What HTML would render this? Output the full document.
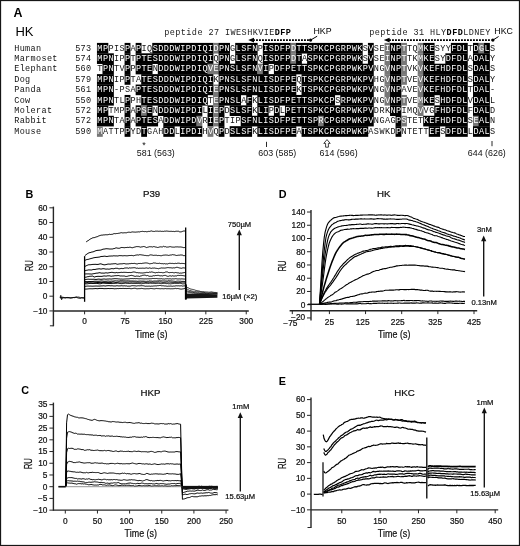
<!DOCTYPE html>
<html lang="en"><head><meta charset="utf-8"><title>HK alignment and SPR sensorgrams</title>
<style>html,body{margin:0;padding:0;background:#fff}body{width:520px;height:546px;overflow:hidden}svg{display:block}text{white-space:pre}</style>
</head><body>
<svg width="520" height="546" viewBox="0 0 520 546">
<rect x="0" y="0" width="520" height="546" fill="#fff"/>
<g id="header">
<text x="13.6" y="17" font-family='"Liberation Sans", Arial, Helvetica, sans-serif' font-size="12.4" font-weight="700" fill="#000">A</text>
<text x="15.4" y="36.2" font-family='"Liberation Sans", Arial, Helvetica, sans-serif' font-size="13" fill="#000">HK</text>
<text y="35.1" font-family='"Liberation Mono", "Courier New", Courier, monospace' font-size="8.5" fill="#222">
<tspan x="164.2 169.73 175.26 180.79 186.32 191.85 197.38 202.91 208.44 213.97 219.5 225.03 230.56 236.09 241.62 247.15 252.68 258.21 263.74 269.27">peptide 27 IWESHKVIE</tspan>
<tspan x="274.8 280.33 285.86" font-weight="700" fill="#000">DFP</tspan>
</text>
<text x="313.5" y="34.1" font-family='"Liberation Sans", Arial, Helvetica, sans-serif' font-size="8.8" fill="#000">HKP</text>
<line x1="253" y1="40.1" x2="309" y2="40.1" stroke="#000" stroke-width="1.6" stroke-dasharray="1.9 1.1"/>
<path d="M248.2 40.1 L254 37.7 L254 42.5 Z" fill="#000"/>
<circle cx="310.6" cy="40.1" r="1.6" fill="#000"/>
<line x1="310.6" y1="40.1" x2="317.2" y2="36.2" stroke="#000" stroke-width="1"/>
<text y="35.1" font-family='"Liberation Mono", "Courier New", Courier, monospace' font-size="8.5" fill="#222">
<tspan x="369.2 374.73 380.26 385.79 391.32 396.85 402.38 407.91 413.44 418.97 424.5 430.03 435.56 441.09">peptide 31 HLY</tspan>
<tspan x="446.62 452.15 457.68" font-weight="700" fill="#000">DFD</tspan>
<tspan x="463.21 468.74 474.27 479.8 485.33">LDNEY</tspan>
</text>
<text x="494.3" y="34.1" font-family='"Liberation Sans", Arial, Helvetica, sans-serif' font-size="8.8" fill="#000">HKC</text>
<line x1="389" y1="40.1" x2="491.5" y2="40.1" stroke="#000" stroke-width="1.6" stroke-dasharray="1.9 1.1"/>
<path d="M383.8 40.1 L389.6 37.7 L389.6 42.5 Z" fill="#000"/>
<circle cx="492.9" cy="40.1" r="1.6" fill="#000"/>
<line x1="492.9" y1="40.1" x2="498.6" y2="36.5" stroke="#000" stroke-width="1"/>
</g>
<g id="alignment" font-family='"Liberation Mono", "Courier New", Courier, monospace' font-size="8.5">
<rect x="96.95" y="42.9" width="11.36" height="10.66" fill="#000"/>
<rect x="124.6" y="42.9" width="5.83" height="10.66" fill="#000"/>
<rect x="135.66" y="42.9" width="5.83" height="10.66" fill="#000"/>
<rect x="152.25" y="42.9" width="61.13" height="10.66" fill="#000"/>
<rect x="213.08" y="42.9" width="5.83" height="10.66" fill="#777"/>
<rect x="218.61" y="42.9" width="11.36" height="10.66" fill="#000"/>
<rect x="235.2" y="42.9" width="22.42" height="10.66" fill="#000"/>
<rect x="262.85" y="42.9" width="27.95" height="10.66" fill="#000"/>
<rect x="290.5" y="42.9" width="5.83" height="10.66" fill="#777"/>
<rect x="296.03" y="42.9" width="66.66" height="10.66" fill="#000"/>
<rect x="367.92" y="42.9" width="5.83" height="10.66" fill="#000"/>
<rect x="384.51" y="42.9" width="5.83" height="10.66" fill="#777"/>
<rect x="390.04" y="42.9" width="11.36" height="10.66" fill="#000"/>
<rect x="401.1" y="42.9" width="5.83" height="10.66" fill="#777"/>
<rect x="417.69" y="42.9" width="5.83" height="10.66" fill="#777"/>
<rect x="423.22" y="42.9" width="11.36" height="10.66" fill="#000"/>
<rect x="450.87" y="42.9" width="16.89" height="10.66" fill="#000"/>
<rect x="472.99" y="42.9" width="5.83" height="10.66" fill="#000"/>
<rect x="478.52" y="42.9" width="5.83" height="10.66" fill="#777"/>
<rect x="484.05" y="42.9" width="5.83" height="10.66" fill="#000"/>
<rect x="96.95" y="53.31" width="16.89" height="10.66" fill="#000"/>
<rect x="124.6" y="53.31" width="5.83" height="10.66" fill="#000"/>
<rect x="135.66" y="53.31" width="77.72" height="10.66" fill="#000"/>
<rect x="218.61" y="53.31" width="11.36" height="10.66" fill="#000"/>
<rect x="235.2" y="53.31" width="22.42" height="10.66" fill="#000"/>
<rect x="262.85" y="53.31" width="27.95" height="10.66" fill="#000"/>
<rect x="290.5" y="53.31" width="5.83" height="10.66" fill="#777"/>
<rect x="296.03" y="53.31" width="5.83" height="10.66" fill="#000"/>
<rect x="307.09" y="53.31" width="55.6" height="10.66" fill="#000"/>
<rect x="367.92" y="53.31" width="5.83" height="10.66" fill="#000"/>
<rect x="384.51" y="53.31" width="5.83" height="10.66" fill="#777"/>
<rect x="390.04" y="53.31" width="11.36" height="10.66" fill="#000"/>
<rect x="401.1" y="53.31" width="5.83" height="10.66" fill="#777"/>
<rect x="417.69" y="53.31" width="5.83" height="10.66" fill="#777"/>
<rect x="423.22" y="53.31" width="11.36" height="10.66" fill="#000"/>
<rect x="445.34" y="53.31" width="22.42" height="10.66" fill="#000"/>
<rect x="472.99" y="53.31" width="16.89" height="10.66" fill="#000"/>
<rect x="102.48" y="63.72" width="11.36" height="10.66" fill="#000"/>
<rect x="124.6" y="63.72" width="5.83" height="10.66" fill="#000"/>
<rect x="135.66" y="63.72" width="16.89" height="10.66" fill="#000"/>
<rect x="157.78" y="63.72" width="50.07" height="10.66" fill="#000"/>
<rect x="207.55" y="63.72" width="11.36" height="10.66" fill="#777"/>
<rect x="218.61" y="63.72" width="39.01" height="10.66" fill="#000"/>
<rect x="257.32" y="63.72" width="5.83" height="10.66" fill="#777"/>
<rect x="262.85" y="63.72" width="5.83" height="10.66" fill="#000"/>
<rect x="273.91" y="63.72" width="99.84" height="10.66" fill="#000"/>
<rect x="384.51" y="63.72" width="5.83" height="10.66" fill="#777"/>
<rect x="390.04" y="63.72" width="11.36" height="10.66" fill="#000"/>
<rect x="401.1" y="63.72" width="5.83" height="10.66" fill="#777"/>
<rect x="417.69" y="63.72" width="5.83" height="10.66" fill="#777"/>
<rect x="423.22" y="63.72" width="44.54" height="10.66" fill="#000"/>
<rect x="472.99" y="63.72" width="16.89" height="10.66" fill="#000"/>
<rect x="96.95" y="74.13" width="16.89" height="10.66" fill="#000"/>
<rect x="124.6" y="74.13" width="5.83" height="10.66" fill="#000"/>
<rect x="141.19" y="74.13" width="72.19" height="10.66" fill="#000"/>
<rect x="218.61" y="74.13" width="77.72" height="10.66" fill="#000"/>
<rect x="301.56" y="74.13" width="72.19" height="10.66" fill="#000"/>
<rect x="384.51" y="74.13" width="5.83" height="10.66" fill="#777"/>
<rect x="390.04" y="74.13" width="11.36" height="10.66" fill="#000"/>
<rect x="401.1" y="74.13" width="5.83" height="10.66" fill="#777"/>
<rect x="417.69" y="74.13" width="5.83" height="10.66" fill="#777"/>
<rect x="423.22" y="74.13" width="44.54" height="10.66" fill="#000"/>
<rect x="472.99" y="74.13" width="16.89" height="10.66" fill="#000"/>
<rect x="96.95" y="84.54" width="16.89" height="10.66" fill="#000"/>
<rect x="135.66" y="84.54" width="77.72" height="10.66" fill="#000"/>
<rect x="213.08" y="84.54" width="5.83" height="10.66" fill="#777"/>
<rect x="218.61" y="84.54" width="77.72" height="10.66" fill="#000"/>
<rect x="301.56" y="84.54" width="72.19" height="10.66" fill="#000"/>
<rect x="384.51" y="84.54" width="5.83" height="10.66" fill="#777"/>
<rect x="390.04" y="84.54" width="11.36" height="10.66" fill="#000"/>
<rect x="417.69" y="84.54" width="5.83" height="10.66" fill="#777"/>
<rect x="423.22" y="84.54" width="44.54" height="10.66" fill="#000"/>
<rect x="472.99" y="84.54" width="16.89" height="10.66" fill="#000"/>
<rect x="96.95" y="94.95" width="16.89" height="10.66" fill="#000"/>
<rect x="124.6" y="94.95" width="5.83" height="10.66" fill="#000"/>
<rect x="141.19" y="94.95" width="66.66" height="10.66" fill="#000"/>
<rect x="213.08" y="94.95" width="5.83" height="10.66" fill="#777"/>
<rect x="218.61" y="94.95" width="22.42" height="10.66" fill="#000"/>
<rect x="246.26" y="94.95" width="5.83" height="10.66" fill="#000"/>
<rect x="257.32" y="94.95" width="77.72" height="10.66" fill="#000"/>
<rect x="340.27" y="94.95" width="33.48" height="10.66" fill="#000"/>
<rect x="384.51" y="94.95" width="5.83" height="10.66" fill="#777"/>
<rect x="390.04" y="94.95" width="11.36" height="10.66" fill="#000"/>
<rect x="401.1" y="94.95" width="5.83" height="10.66" fill="#777"/>
<rect x="417.69" y="94.95" width="5.83" height="10.66" fill="#777"/>
<rect x="423.22" y="94.95" width="11.36" height="10.66" fill="#000"/>
<rect x="439.81" y="94.95" width="27.95" height="10.66" fill="#000"/>
<rect x="472.99" y="94.95" width="16.89" height="10.66" fill="#000"/>
<rect x="96.95" y="105.36" width="11.36" height="10.66" fill="#000"/>
<rect x="124.6" y="105.36" width="5.83" height="10.66" fill="#000"/>
<rect x="135.66" y="105.36" width="5.83" height="10.66" fill="#000"/>
<rect x="141.19" y="105.36" width="5.83" height="10.66" fill="#777"/>
<rect x="146.72" y="105.36" width="5.83" height="10.66" fill="#000"/>
<rect x="157.78" y="105.36" width="44.54" height="10.66" fill="#000"/>
<rect x="207.55" y="105.36" width="5.83" height="10.66" fill="#000"/>
<rect x="213.08" y="105.36" width="5.83" height="10.66" fill="#777"/>
<rect x="218.61" y="105.36" width="5.83" height="10.66" fill="#000"/>
<rect x="229.67" y="105.36" width="22.42" height="10.66" fill="#000"/>
<rect x="257.32" y="105.36" width="11.36" height="10.66" fill="#000"/>
<rect x="273.91" y="105.36" width="5.83" height="10.66" fill="#000"/>
<rect x="284.97" y="105.36" width="88.78" height="10.66" fill="#000"/>
<rect x="390.04" y="105.36" width="11.36" height="10.66" fill="#000"/>
<rect x="417.69" y="105.36" width="5.83" height="10.66" fill="#777"/>
<rect x="434.28" y="105.36" width="33.48" height="10.66" fill="#000"/>
<rect x="472.99" y="105.36" width="16.89" height="10.66" fill="#000"/>
<rect x="96.95" y="115.77" width="16.89" height="10.66" fill="#000"/>
<rect x="124.6" y="115.77" width="5.83" height="10.66" fill="#000"/>
<rect x="135.66" y="115.77" width="22.42" height="10.66" fill="#000"/>
<rect x="163.31" y="115.77" width="33.48" height="10.66" fill="#000"/>
<rect x="196.49" y="115.77" width="5.83" height="10.66" fill="#777"/>
<rect x="207.55" y="115.77" width="5.83" height="10.66" fill="#000"/>
<rect x="213.08" y="115.77" width="5.83" height="10.66" fill="#777"/>
<rect x="218.61" y="115.77" width="5.83" height="10.66" fill="#000"/>
<rect x="240.73" y="115.77" width="77.72" height="10.66" fill="#000"/>
<rect x="318.15" y="115.77" width="5.83" height="10.66" fill="#777"/>
<rect x="323.68" y="115.77" width="50.07" height="10.66" fill="#000"/>
<rect x="395.57" y="115.77" width="5.83" height="10.66" fill="#000"/>
<rect x="401.1" y="115.77" width="5.83" height="10.66" fill="#777"/>
<rect x="423.22" y="115.77" width="44.54" height="10.66" fill="#000"/>
<rect x="472.99" y="115.77" width="5.83" height="10.66" fill="#777"/>
<rect x="478.52" y="115.77" width="11.36" height="10.66" fill="#000"/>
<rect x="96.95" y="126.18" width="5.83" height="10.66" fill="#777"/>
<rect x="124.6" y="126.18" width="5.83" height="10.66" fill="#000"/>
<rect x="141.19" y="126.18" width="5.83" height="10.66" fill="#000"/>
<rect x="163.31" y="126.18" width="11.36" height="10.66" fill="#000"/>
<rect x="179.9" y="126.18" width="22.42" height="10.66" fill="#000"/>
<rect x="207.55" y="126.18" width="5.83" height="10.66" fill="#777"/>
<rect x="218.61" y="126.18" width="5.83" height="10.66" fill="#000"/>
<rect x="229.67" y="126.18" width="22.42" height="10.66" fill="#000"/>
<rect x="257.32" y="126.18" width="39.01" height="10.66" fill="#000"/>
<rect x="301.56" y="126.18" width="66.66" height="10.66" fill="#000"/>
<rect x="395.57" y="126.18" width="5.83" height="10.66" fill="#000"/>
<rect x="428.75" y="126.18" width="11.36" height="10.66" fill="#000"/>
<rect x="445.34" y="126.18" width="22.42" height="10.66" fill="#000"/>
<rect x="472.99" y="126.18" width="16.89" height="10.66" fill="#000"/>
<text y="50.5" fill="#111">
<tspan x="14.2 19.65 25.09 30.54 35.99">Human</tspan>
<tspan x="75.2 80.56 85.93">573</tspan>
<tspan x="97.35 102.88" fill="#fff">MP</tspan>
<tspan x="108.41 113.94 119.47" fill="#111">PIS</tspan>
<tspan x="125" fill="#fff">P</tspan>
<tspan x="130.53" fill="#111">A</tspan>
<tspan x="136.06" fill="#fff">P</tspan>
<tspan x="141.59 147.12" fill="#111">IQ</tspan>
<tspan x="152.65 158.18 163.71 169.24 174.77 180.3 185.83 191.36 196.89 202.42 207.95" fill="#fff">SDDDWIPDIQI</tspan>
<tspan x="213.48" fill="#fff">D</tspan>
<tspan x="219.01 224.54" fill="#fff">PN</tspan>
<tspan x="230.07" fill="#111">G</tspan>
<tspan x="235.6 241.13 246.66 252.19" fill="#fff">LSFN</tspan>
<tspan x="257.72" fill="#111">P</tspan>
<tspan x="263.25 268.78 274.31 279.84 285.37" fill="#fff">ISDFP</tspan>
<tspan x="290.9" fill="#fff">D</tspan>
<tspan x="296.43 301.96 307.49 313.02 318.55 324.08 329.61 335.14 340.67 346.2 351.73 357.26" fill="#fff">TTSPKCPGRPWK</tspan>
<tspan x="362.79" fill="#111">S</tspan>
<tspan x="368.32" fill="#fff">V</tspan>
<tspan x="373.85 379.38" fill="#111">SE</tspan>
<tspan x="384.91" fill="#fff">I</tspan>
<tspan x="390.44 395.97" fill="#fff">NP</tspan>
<tspan x="401.5" fill="#fff">T</tspan>
<tspan x="407.03 412.56" fill="#111">TQ</tspan>
<tspan x="418.09" fill="#fff">M</tspan>
<tspan x="423.62 429.15" fill="#fff">KE</tspan>
<tspan x="434.68 440.21 445.74" fill="#111">SYY</tspan>
<tspan x="451.27 456.8 462.33" fill="#fff">FDL</tspan>
<tspan x="467.86" fill="#111">T</tspan>
<tspan x="473.39" fill="#fff">D</tspan>
<tspan x="478.92" fill="#fff">G</tspan>
<tspan x="484.45" fill="#fff">L</tspan>
<tspan x="489.98" fill="#111">S</tspan>
</text>
<text y="60.91" fill="#111">
<tspan x="14.2 19.65 25.09 30.54 35.99 41.44 46.88 52.33">Marmoset</tspan>
<tspan x="75.2 80.56 85.93">574</tspan>
<tspan x="97.35 102.88 108.41" fill="#fff">MPN</tspan>
<tspan x="113.94 119.47" fill="#111">IP</tspan>
<tspan x="125" fill="#fff">P</tspan>
<tspan x="130.53" fill="#111">T</tspan>
<tspan x="136.06 141.59 147.12 152.65 158.18 163.71 169.24 174.77 180.3 185.83 191.36 196.89 202.42 207.95" fill="#fff">PTESDDDWIPDIQI</tspan>
<tspan x="213.48" fill="#111">Q</tspan>
<tspan x="219.01 224.54" fill="#fff">PN</tspan>
<tspan x="230.07" fill="#111">G</tspan>
<tspan x="235.6 241.13 246.66 252.19" fill="#fff">LSFN</tspan>
<tspan x="257.72" fill="#111">Q</tspan>
<tspan x="263.25 268.78 274.31 279.84 285.37" fill="#fff">ISDFP</tspan>
<tspan x="290.9" fill="#fff">D</tspan>
<tspan x="296.43" fill="#fff">T</tspan>
<tspan x="301.96" fill="#111">A</tspan>
<tspan x="307.49 313.02 318.55 324.08 329.61 335.14 340.67 346.2 351.73 357.26" fill="#fff">SPKCPGRPWK</tspan>
<tspan x="362.79" fill="#111">S</tspan>
<tspan x="368.32" fill="#fff">V</tspan>
<tspan x="373.85 379.38" fill="#111">SE</tspan>
<tspan x="384.91" fill="#fff">I</tspan>
<tspan x="390.44 395.97" fill="#fff">NP</tspan>
<tspan x="401.5" fill="#fff">T</tspan>
<tspan x="407.03 412.56" fill="#111">TK</tspan>
<tspan x="418.09" fill="#fff">M</tspan>
<tspan x="423.62 429.15" fill="#fff">KE</tspan>
<tspan x="434.68 440.21" fill="#111">SY</tspan>
<tspan x="445.74 451.27 456.8 462.33" fill="#fff">DFDL</tspan>
<tspan x="467.86" fill="#111">A</tspan>
<tspan x="473.39 478.92 484.45" fill="#fff">DAL</tspan>
<tspan x="489.98" fill="#111">Y</tspan>
</text>
<text y="71.32" fill="#111">
<tspan x="14.2 19.65 25.09 30.54 35.99 41.44 46.88 52.33">Elephant</tspan>
<tspan x="75.2 80.56 85.93">560</tspan>
<tspan x="97.35" fill="#111">T</tspan>
<tspan x="102.88 108.41" fill="#fff">PN</tspan>
<tspan x="113.94 119.47" fill="#111">TV</tspan>
<tspan x="125" fill="#fff">P</tspan>
<tspan x="130.53" fill="#111">P</tspan>
<tspan x="136.06 141.59 147.12" fill="#fff">PTE</tspan>
<tspan x="152.65" fill="#111">N</tspan>
<tspan x="158.18 163.71 169.24 174.77 180.3 185.83 191.36 196.89 202.42" fill="#fff">DDDWIPDIQ</tspan>
<tspan x="207.95 213.48" fill="#fff">VE</tspan>
<tspan x="219.01 224.54 230.07 235.6 241.13 246.66 252.19" fill="#fff">PNSLSFN</tspan>
<tspan x="257.72" fill="#fff">V</tspan>
<tspan x="263.25" fill="#fff">I</tspan>
<tspan x="268.78" fill="#111">P</tspan>
<tspan x="274.31 279.84 285.37 290.9 296.43 301.96 307.49 313.02 318.55 324.08 329.61 335.14 340.67 346.2 351.73 357.26 362.79 368.32" fill="#fff">DFPETTSPKCPGRPWKPV</tspan>
<tspan x="373.85 379.38" fill="#111">NG</tspan>
<tspan x="384.91" fill="#fff">V</tspan>
<tspan x="390.44 395.97" fill="#fff">NP</tspan>
<tspan x="401.5" fill="#fff">T</tspan>
<tspan x="407.03 412.56" fill="#111">VK</tspan>
<tspan x="418.09" fill="#fff">V</tspan>
<tspan x="423.62 429.15 434.68 440.21 445.74 451.27 456.8 462.33" fill="#fff">KEFHDFDL</tspan>
<tspan x="467.86" fill="#111">S</tspan>
<tspan x="473.39 478.92 484.45" fill="#fff">DAL</tspan>
<tspan x="489.98" fill="#111">S</tspan>
</text>
<text y="81.73" fill="#111">
<tspan x="14.2 19.65 25.09">Dog</tspan>
<tspan x="75.2 80.56 85.93">579</tspan>
<tspan x="97.35 102.88 108.41" fill="#fff">MPN</tspan>
<tspan x="113.94 119.47" fill="#111">IP</tspan>
<tspan x="125" fill="#fff">P</tspan>
<tspan x="130.53 136.06" fill="#111">TA</tspan>
<tspan x="141.59 147.12 152.65 158.18 163.71 169.24 174.77 180.3 185.83 191.36 196.89 202.42 207.95" fill="#fff">TESDDDWIPDIQI</tspan>
<tspan x="213.48" fill="#111">K</tspan>
<tspan x="219.01 224.54 230.07 235.6 241.13 246.66 252.19 257.72 263.25 268.78 274.31 279.84 285.37 290.9" fill="#fff">PNSLSFNLISDFPE</tspan>
<tspan x="296.43" fill="#111">Q</tspan>
<tspan x="301.96 307.49 313.02 318.55 324.08 329.61 335.14 340.67 346.2 351.73 357.26 362.79 368.32" fill="#fff">TSPKCPGRPWKPV</tspan>
<tspan x="373.85 379.38" fill="#111">HG</tspan>
<tspan x="384.91" fill="#fff">V</tspan>
<tspan x="390.44 395.97" fill="#fff">NP</tspan>
<tspan x="401.5" fill="#fff">T</tspan>
<tspan x="407.03 412.56" fill="#111">VE</tspan>
<tspan x="418.09" fill="#fff">V</tspan>
<tspan x="423.62 429.15 434.68 440.21 445.74 451.27 456.8 462.33" fill="#fff">KEFHDFDL</tspan>
<tspan x="467.86" fill="#111">S</tspan>
<tspan x="473.39 478.92 484.45" fill="#fff">DAL</tspan>
<tspan x="489.98" fill="#111">Y</tspan>
</text>
<text y="92.14" fill="#111">
<tspan x="14.2 19.65 25.09 30.54 35.99">Panda</tspan>
<tspan x="75.2 80.56 85.93">561</tspan>
<tspan x="97.35 102.88 108.41" fill="#fff">MPN</tspan>
<tspan x="113.94 119.47 125 130.53" fill="#111">-PSA</tspan>
<tspan x="136.06 141.59 147.12 152.65 158.18 163.71 169.24 174.77 180.3 185.83 191.36 196.89 202.42 207.95" fill="#fff">PTESDDDWIPDIQI</tspan>
<tspan x="213.48" fill="#fff">E</tspan>
<tspan x="219.01 224.54 230.07 235.6 241.13 246.66 252.19 257.72 263.25 268.78 274.31 279.84 285.37 290.9" fill="#fff">PNSLSFNLISDFPE</tspan>
<tspan x="296.43" fill="#111">K</tspan>
<tspan x="301.96 307.49 313.02 318.55 324.08 329.61 335.14 340.67 346.2 351.73 357.26 362.79 368.32" fill="#fff">TSPKCPGRPWKPV</tspan>
<tspan x="373.85 379.38" fill="#111">NG</tspan>
<tspan x="384.91" fill="#fff">V</tspan>
<tspan x="390.44 395.97" fill="#fff">NP</tspan>
<tspan x="401.5 407.03 412.56" fill="#111">AVE</tspan>
<tspan x="418.09" fill="#fff">V</tspan>
<tspan x="423.62 429.15 434.68 440.21 445.74 451.27 456.8 462.33" fill="#fff">KEFHDFDL</tspan>
<tspan x="467.86" fill="#111">T</tspan>
<tspan x="473.39 478.92 484.45" fill="#fff">DAL</tspan>
<tspan x="489.98" fill="#111">-</tspan>
</text>
<text y="102.55" fill="#111">
<tspan x="14.2 19.65 25.09">Cow</tspan>
<tspan x="75.2 80.56 85.93">550</tspan>
<tspan x="97.35 102.88 108.41" fill="#fff">MPN</tspan>
<tspan x="113.94 119.47" fill="#111">TL</tspan>
<tspan x="125" fill="#fff">P</tspan>
<tspan x="130.53 136.06" fill="#111">PH</tspan>
<tspan x="141.59 147.12 152.65 158.18 163.71 169.24 174.77 180.3 185.83 191.36 196.89 202.42" fill="#fff">TESDDDWIPDIQ</tspan>
<tspan x="207.95" fill="#111">T</tspan>
<tspan x="213.48" fill="#fff">E</tspan>
<tspan x="219.01 224.54 230.07 235.6" fill="#fff">PNSL</tspan>
<tspan x="241.13" fill="#111">A</tspan>
<tspan x="246.66" fill="#fff">F</tspan>
<tspan x="252.19" fill="#111">K</tspan>
<tspan x="257.72 263.25 268.78 274.31 279.84 285.37 290.9 296.43 301.96 307.49 313.02 318.55 324.08 329.61" fill="#fff">LISDFPETTSPKCP</tspan>
<tspan x="335.14" fill="#111">S</tspan>
<tspan x="340.67 346.2 351.73 357.26 362.79 368.32" fill="#fff">RPWKPV</tspan>
<tspan x="373.85 379.38" fill="#111">NG</tspan>
<tspan x="384.91" fill="#fff">V</tspan>
<tspan x="390.44 395.97" fill="#fff">NP</tspan>
<tspan x="401.5" fill="#fff">T</tspan>
<tspan x="407.03 412.56" fill="#111">VE</tspan>
<tspan x="418.09" fill="#fff">M</tspan>
<tspan x="423.62 429.15" fill="#fff">KE</tspan>
<tspan x="434.68" fill="#111">S</tspan>
<tspan x="440.21 445.74 451.27 456.8 462.33" fill="#fff">HDFDL</tspan>
<tspan x="467.86" fill="#111">V</tspan>
<tspan x="473.39 478.92 484.45" fill="#fff">DAL</tspan>
<tspan x="489.98" fill="#111">L</tspan>
</text>
<text y="112.96" fill="#111">
<tspan x="14.2 19.65 25.09 30.54 35.99 41.44 46.88">Molerat</tspan>
<tspan x="75.2 80.56 85.93">572</tspan>
<tspan x="97.35 102.88" fill="#fff">MP</tspan>
<tspan x="108.41 113.94 119.47" fill="#111">TMP</tspan>
<tspan x="125" fill="#fff">P</tspan>
<tspan x="130.53" fill="#111">A</tspan>
<tspan x="136.06" fill="#fff">P</tspan>
<tspan x="141.59" fill="#fff">S</tspan>
<tspan x="147.12" fill="#fff">E</tspan>
<tspan x="152.65" fill="#111">N</tspan>
<tspan x="158.18 163.71 169.24 174.77 180.3 185.83 191.36 196.89" fill="#fff">DDDWIPDI</tspan>
<tspan x="202.42" fill="#111">L</tspan>
<tspan x="207.95" fill="#fff">I</tspan>
<tspan x="213.48" fill="#fff">E</tspan>
<tspan x="219.01" fill="#fff">P</tspan>
<tspan x="224.54" fill="#111">D</tspan>
<tspan x="230.07 235.6 241.13 246.66" fill="#fff">SLSF</tspan>
<tspan x="252.19" fill="#111">K</tspan>
<tspan x="257.72 263.25" fill="#fff">LI</tspan>
<tspan x="268.78" fill="#111">P</tspan>
<tspan x="274.31" fill="#fff">D</tspan>
<tspan x="279.84" fill="#111">L</tspan>
<tspan x="285.37 290.9 296.43 301.96 307.49 313.02 318.55 324.08 329.61 335.14 340.67 346.2 351.73 357.26 362.79 368.32" fill="#fff">PETTSPKCPGRPWKPV</tspan>
<tspan x="373.85 379.38 384.91" fill="#111">DRK</tspan>
<tspan x="390.44 395.97" fill="#fff">NP</tspan>
<tspan x="401.5 407.03 412.56" fill="#111">IMQ</tspan>
<tspan x="418.09" fill="#fff">V</tspan>
<tspan x="423.62 429.15" fill="#111">VG</tspan>
<tspan x="434.68 440.21 445.74 451.27 456.8 462.33" fill="#fff">FHDFDL</tspan>
<tspan x="467.86" fill="#111">F</tspan>
<tspan x="473.39 478.92 484.45" fill="#fff">DAL</tspan>
<tspan x="489.98" fill="#111">D</tspan>
</text>
<text y="123.37" fill="#111">
<tspan x="14.2 19.65 25.09 30.54 35.99 41.44">Rabbit</tspan>
<tspan x="75.2 80.56 85.93">572</tspan>
<tspan x="97.35 102.88 108.41" fill="#fff">MPN</tspan>
<tspan x="113.94 119.47" fill="#111">TA</tspan>
<tspan x="125" fill="#fff">P</tspan>
<tspan x="130.53" fill="#111">A</tspan>
<tspan x="136.06 141.59 147.12 152.65" fill="#fff">PTES</tspan>
<tspan x="158.18" fill="#111">A</tspan>
<tspan x="163.71 169.24 174.77 180.3 185.83 191.36" fill="#fff">DDWIPD</tspan>
<tspan x="196.89" fill="#fff">V</tspan>
<tspan x="202.42" fill="#111">R</tspan>
<tspan x="207.95" fill="#fff">I</tspan>
<tspan x="213.48" fill="#fff">E</tspan>
<tspan x="219.01" fill="#fff">P</tspan>
<tspan x="224.54 230.07 235.6" fill="#111">TIP</tspan>
<tspan x="241.13 246.66 252.19 257.72 263.25 268.78 274.31 279.84 285.37 290.9 296.43 301.96 307.49 313.02" fill="#fff">SFNLISDFPETTSP</tspan>
<tspan x="318.55" fill="#fff">R</tspan>
<tspan x="324.08 329.61 335.14 340.67 346.2 351.73 357.26 362.79 368.32" fill="#fff">CPGRPWKPV</tspan>
<tspan x="373.85 379.38 384.91 390.44" fill="#111">NGAG</tspan>
<tspan x="395.97" fill="#fff">P</tspan>
<tspan x="401.5" fill="#fff">S</tspan>
<tspan x="407.03 412.56 418.09" fill="#111">TET</tspan>
<tspan x="423.62 429.15 434.68 440.21 445.74 451.27 456.8 462.33" fill="#fff">KEFHDFDL</tspan>
<tspan x="467.86" fill="#111">S</tspan>
<tspan x="473.39" fill="#fff">E</tspan>
<tspan x="478.92 484.45" fill="#fff">AL</tspan>
<tspan x="489.98" fill="#111">N</tspan>
</text>
<text y="133.78" fill="#111">
<tspan x="14.2 19.65 25.09 30.54 35.99">Mouse</tspan>
<tspan x="75.2 80.56 85.93">590</tspan>
<tspan x="97.35" fill="#fff">M</tspan>
<tspan x="102.88 108.41 113.94 119.47" fill="#111">ATTP</tspan>
<tspan x="125" fill="#fff">P</tspan>
<tspan x="130.53 136.06" fill="#111">YD</tspan>
<tspan x="141.59" fill="#fff">T</tspan>
<tspan x="147.12 152.65 158.18" fill="#111">GAH</tspan>
<tspan x="163.71 169.24" fill="#fff">DD</tspan>
<tspan x="174.77" fill="#111">L</tspan>
<tspan x="180.3 185.83 191.36 196.89" fill="#fff">IPDI</tspan>
<tspan x="202.42" fill="#111">H</tspan>
<tspan x="207.95" fill="#fff">V</tspan>
<tspan x="213.48" fill="#111">Q</tspan>
<tspan x="219.01" fill="#fff">P</tspan>
<tspan x="224.54" fill="#111">D</tspan>
<tspan x="230.07 235.6 241.13 246.66" fill="#fff">SLSF</tspan>
<tspan x="252.19" fill="#111">K</tspan>
<tspan x="257.72 263.25 268.78 274.31 279.84 285.37 290.9" fill="#fff">LISDFPE</tspan>
<tspan x="296.43" fill="#111">A</tspan>
<tspan x="301.96 307.49 313.02 318.55 324.08 329.61 335.14 340.67 346.2 351.73 357.26 362.79" fill="#fff">TSPKCPGRPWKP</tspan>
<tspan x="368.32 373.85 379.38 384.91 390.44" fill="#111">ASWKD</tspan>
<tspan x="395.97" fill="#fff">P</tspan>
<tspan x="401.5 407.03 412.56 418.09 423.62" fill="#111">NTETT</tspan>
<tspan x="429.15 434.68" fill="#fff">EF</tspan>
<tspan x="440.21" fill="#111">S</tspan>
<tspan x="445.74 451.27 456.8 462.33" fill="#fff">DFDL</tspan>
<tspan x="467.86" fill="#111">L</tspan>
<tspan x="473.39 478.92 484.45" fill="#fff">DAL</tspan>
<tspan x="489.98" fill="#111">S</tspan>
</text>
</g>
<g id="positions" font-family='"Liberation Sans", Arial, Helvetica, sans-serif' font-size="8.9" fill="#111">
<text x="142.3" y="147.6" font-size="9">*</text>
<text x="136.8" y="155.7">581 (563)</text>
<line x1="266.5" y1="141.8" x2="266.5" y2="147" stroke="#111" stroke-width="0.9"/>
<text x="258.3" y="155.7">603 (585)</text>
<path d="M327 139.6 L330.2 143.4 L328.4 143.4 L328.4 147.2 L325.6 147.2 L325.6 143.4 L323.8 143.4 Z" fill="#fff" stroke="#111" stroke-width="0.8"/>
<text x="319.6" y="155.7">614 (596)</text>
<line x1="492" y1="141" x2="492" y2="146.2" stroke="#111" stroke-width="0.9"/>
<text x="467.8" y="155.7">644 (626)</text>
</g>
<g id="panelB" font-family='"Liberation Sans", Arial, Helvetica, sans-serif'>
<text x="25.6" y="197.9" font-size="10.8" text-anchor="start" fill="#000" font-weight="700">B</text>
<text x="151.6" y="196.8" font-size="9.7" text-anchor="middle" fill="#111" stroke="#111" stroke-width="0.22">P39</text>
<line x1="53.4" y1="206.6" x2="53.4" y2="326.3" stroke="#262626" stroke-width="1.4"/>
<line x1="49.4" y1="207.82" x2="53.4" y2="207.82" stroke="#262626" stroke-width="1.0"/>
<text x="47.4" y="210.62" font-size="8.3" text-anchor="end" fill="#111" stroke="#111" stroke-width="0.22">60</text>
<line x1="49.4" y1="222.55" x2="53.4" y2="222.55" stroke="#262626" stroke-width="1.0"/>
<text x="47.4" y="225.35" font-size="8.3" text-anchor="end" fill="#111" stroke="#111" stroke-width="0.22">50</text>
<line x1="49.4" y1="237.28" x2="53.4" y2="237.28" stroke="#262626" stroke-width="1.0"/>
<text x="47.4" y="240.08" font-size="8.3" text-anchor="end" fill="#111" stroke="#111" stroke-width="0.22">40</text>
<line x1="49.4" y1="252.01" x2="53.4" y2="252.01" stroke="#262626" stroke-width="1.0"/>
<text x="47.4" y="254.81" font-size="8.3" text-anchor="end" fill="#111" stroke="#111" stroke-width="0.22">30</text>
<line x1="49.4" y1="266.74" x2="53.4" y2="266.74" stroke="#262626" stroke-width="1.0"/>
<text x="47.4" y="269.54" font-size="8.3" text-anchor="end" fill="#111" stroke="#111" stroke-width="0.22">20</text>
<line x1="49.4" y1="281.47" x2="53.4" y2="281.47" stroke="#262626" stroke-width="1.0"/>
<text x="47.4" y="284.27" font-size="8.3" text-anchor="end" fill="#111" stroke="#111" stroke-width="0.22">10</text>
<line x1="49.4" y1="296.2" x2="53.4" y2="296.2" stroke="#262626" stroke-width="1.0"/>
<text x="47.4" y="299" font-size="8.3" text-anchor="end" fill="#111" stroke="#111" stroke-width="0.22">0</text>
<line x1="49.4" y1="310.93" x2="53.4" y2="310.93" stroke="#262626" stroke-width="1.0"/>
<text x="47.4" y="313.73" font-size="8.3" text-anchor="end" fill="#111" stroke="#111" stroke-width="0.22">−10</text>
<line x1="49.9" y1="325.8" x2="53.4" y2="325.8" stroke="#262626" stroke-width="1.0"/>
<line x1="53.4" y1="310.93" x2="248.8" y2="310.93" stroke="#262626" stroke-width="1.4"/>
<line x1="84.6" y1="310.93" x2="84.6" y2="314.33" stroke="#262626" stroke-width="1.0"/>
<text x="84.6" y="324.4" font-size="8.3" text-anchor="middle" fill="#111" stroke="#111" stroke-width="0.22">0</text>
<line x1="125.01" y1="310.93" x2="125.01" y2="314.33" stroke="#262626" stroke-width="1.0"/>
<text x="125.01" y="324.4" font-size="8.3" text-anchor="middle" fill="#111" stroke="#111" stroke-width="0.22">75</text>
<line x1="165.42" y1="310.93" x2="165.42" y2="314.33" stroke="#262626" stroke-width="1.0"/>
<text x="165.42" y="324.4" font-size="8.3" text-anchor="middle" fill="#111" stroke="#111" stroke-width="0.22">150</text>
<line x1="205.83" y1="310.93" x2="205.83" y2="314.33" stroke="#262626" stroke-width="1.0"/>
<text x="205.83" y="324.4" font-size="8.3" text-anchor="middle" fill="#111" stroke="#111" stroke-width="0.22">225</text>
<line x1="246.24" y1="310.93" x2="246.24" y2="314.33" stroke="#262626" stroke-width="1.0"/>
<text x="246.24" y="324.4" font-size="8.3" text-anchor="middle" fill="#111" stroke="#111" stroke-width="0.22">300</text>
<text x="151.2" y="337.9" font-size="10.6" text-anchor="middle" fill="#111" textLength="32.4" lengthAdjust="spacingAndGlyphs" stroke="#111" stroke-width="0.22">Time (s)</text>
<text x="32.6" y="265.7" font-size="10.4" text-anchor="middle" fill="#111" textLength="11.2" lengthAdjust="spacingAndGlyphs" transform="rotate(-90 32.6 265.7)" stroke="#111" stroke-width="0.22">RU</text>
<path d="M60 297.59 L61.01 297.26 L62.02 297.24 L63.02 297.22 L64.03 297.55 L65.04 297.95 L66.05 297.73 L67.06 297.77 L68.07 297.85 L69.07 297.8 L70.08 297.81 L71.09 297.71 L72.1 297.75 L73.11 297.52 L74.12 297.68 L75.12 297.57 L76.13 296.93 L77.14 297.14 L78.15 297.09 L79.16 297.14 L80.17 297.72 L81.17 297.84 L82.18 297.69 L83.19 297.69 L84.2 297.51" fill="none" stroke="#000" stroke-width="0.9" stroke-linejoin="round"/>
<path d="M60 297.83 L61.01 298.02 L62.02 297.84 L63.02 297.95 L64.03 297.7 L65.04 297.77 L66.05 297.65 L67.06 297.44 L68.07 297.53 L69.07 297.56 L70.08 298.13 L71.09 297.99 L72.1 297.88 L73.11 297.5 L74.12 297.47 L75.12 297.24 L76.13 297.23 L77.14 297.65 L78.15 298.01 L79.16 298.23 L80.17 298.38 L81.17 297.75 L82.18 297.89 L83.19 298.12 L84.2 298.16" fill="none" stroke="#000" stroke-width="0.9" stroke-linejoin="round"/>
<path d="M86.2 241.93 L87.2 241.12 L88.21 240.61 L89.21 239.82 L90.22 239.08 L91.22 238.64 L92.23 238.03 L93.23 237.71 L94.24 237.67 L95.24 237.3 L96.25 236.92 L97.25 236.72 L98.26 236.17 L99.26 235.78 L100.27 235.44 L101.27 235.17 L102.28 235.15 L103.28 234.93 L104.29 234.91 L105.29 234.76 L106.3 234.75 L107.3 234.78 L108.31 234.64 L109.31 234.24 L110.32 234.48 L111.32 234.38 L112.33 234.33 L113.33 233.85 L114.34 233.61 L115.34 233.71 L116.35 233.55 L117.35 233.5 L118.35 233.32 L119.36 233.2 L120.36 232.88 L121.37 232.66 L122.37 232.88 L123.38 232.87 L124.38 232.76 L125.39 232.78 L126.39 232.8 L127.4 232.43 L128.4 232.23 L129.41 232.23 L130.41 232.39 L131.42 232.13 L132.42 231.93 L133.43 232.02 L134.43 232.08 L135.44 232.15 L136.44 232.04 L137.45 231.98 L138.45 231.84 L139.46 231.95 L140.46 231.61 L141.47 231.49 L142.47 231.33 L143.48 231.5 L144.48 231.63 L145.49 231.52 L146.49 231.74 L147.5 231.65 L148.5 231.4 L149.5 231.43 L150.51 231.17 L151.51 230.95 L152.52 231.3 L153.52 231.41 L154.53 231.45 L155.53 231.15 L156.54 231.18 L157.54 231.17 L158.55 231.31 L159.55 231.24 L160.56 231.19 L161.56 231.4 L162.57 231.32 L163.57 231.41 L164.58 231.15 L165.58 231.19 L166.59 231.05 L167.59 231.17 L168.6 231.29 L169.6 231.37 L170.61 231.34 L171.61 231.33 L172.62 231.46 L173.62 231.4 L174.63 231.58 L175.63 231.32 L176.64 231.22 L177.64 231.25 L178.65 231.28 L179.65 231.84 L180.65 231.88 L181.66 231.73 L182.66 231.32 L183.67 231.02 L184.67 231.01 L185.68 231.29" fill="none" stroke="#000" stroke-width="1.0" stroke-linejoin="round"/>
<path d="M84.9 255.44 L85.91 254.92 L86.92 254.02 L87.92 253.45 L88.93 252.82 L89.94 252.58 L90.95 252.36 L91.95 251.97 L92.96 251.91 L93.97 251.54 L94.98 251 L95.99 250.69 L96.99 250.43 L98 250.3 L99.01 250.24 L100.02 250.14 L101.02 250.05 L102.03 249.55 L103.04 249.17 L104.05 249.08 L105.06 248.94 L106.06 248.72 L107.07 248.77 L108.08 248.83 L109.09 248.95 L110.09 249.07 L111.1 248.95 L112.11 249.12 L113.12 248.71 L114.13 248.64 L115.13 248.2 L116.14 247.83 L117.15 248.08 L118.16 248.22 L119.16 248.31 L120.17 247.97 L121.18 247.52 L122.19 247.52 L123.2 247.59 L124.2 247.75 L125.21 247.56 L126.22 247.57 L127.23 247.33 L128.23 247.51 L129.24 247.26 L130.25 247.22 L131.26 247.55 L132.27 247.77 L133.27 247.47 L134.28 247.18 L135.29 246.93 L136.3 246.63 L137.31 246.61 L138.31 246.62 L139.32 246.78 L140.33 247.17 L141.34 246.94 L142.34 246.82 L143.35 246.52 L144.36 246.62 L145.37 246.98 L146.38 247.57 L147.38 247.31 L148.39 247.05 L149.4 246.73 L150.41 246.75 L151.41 246.75 L152.42 247.02 L153.43 246.62 L154.44 246.69 L155.45 247.01 L156.45 247.17 L157.46 247.46 L158.47 247.33 L159.48 247.01 L160.48 246.84 L161.49 246.92 L162.5 246.92 L163.51 246.31 L164.52 246.72 L165.52 246.67 L166.53 247.1 L167.54 247.09 L168.55 246.99 L169.55 246.72 L170.56 246.69 L171.57 246.97 L172.58 247.1 L173.59 247.13 L174.59 247.12 L175.6 246.89 L176.61 246.9 L177.62 246.86 L178.62 246.99 L179.63 246.99 L180.64 246.98 L181.65 247.13 L182.66 247.34 L183.66 247.64 L184.67 247.5 L185.68 247.06" fill="none" stroke="#000" stroke-width="1.0" stroke-linejoin="round"/>
<path d="M84.9 260.39 L85.91 259.91 L86.92 259.53 L87.92 259.37 L88.93 259.23 L89.94 258.78 L90.95 258.58 L91.95 258.24 L92.96 258.05 L93.97 257.65 L94.98 257.64 L95.99 257.35 L96.99 257.4 L98 257.18 L99.01 257.14 L100.02 256.9 L101.02 256.46 L102.03 256.48 L103.04 256.36 L104.05 256.23 L105.06 256.15 L106.06 256.46 L107.07 256.48 L108.08 256.34 L109.09 256.06 L110.09 256.13 L111.1 255.94 L112.11 256.1 L113.12 255.83 L114.13 255.81 L115.13 255.95 L116.14 255.85 L117.15 256 L118.16 255.91 L119.16 255.61 L120.17 255.67 L121.18 255.64 L122.19 255.8 L123.2 255.79 L124.2 255.67 L125.21 255.71 L126.22 255.79 L127.23 255.8 L128.23 255.68 L129.24 255.52 L130.25 255.53 L131.26 255.41 L132.27 255.5 L133.27 255.79 L134.28 255.55 L135.29 255.25 L136.3 255.07 L137.31 254.88 L138.31 255.1 L139.32 254.73 L140.33 254.73 L141.34 254.86 L142.34 255.02 L143.35 255.15 L144.36 255.4 L145.37 255.43 L146.38 255.62 L147.38 255.64 L148.39 255.73 L149.4 255.23 L150.41 254.88 L151.41 254.95 L152.42 255.11 L153.43 255.39 L154.44 255.29 L155.45 255.27 L156.45 255.25 L157.46 255.57 L158.47 255.44 L159.48 255.53 L160.48 255.68 L161.49 255.71 L162.5 255.39 L163.51 255.18 L164.52 255.12 L165.52 255.03 L166.53 255.09 L167.54 255.17 L168.55 255.41 L169.55 255.22 L170.56 255.02 L171.57 254.98 L172.58 254.62 L173.59 254.83 L174.59 254.92 L175.6 255.26 L176.61 255.49 L177.62 255.34 L178.62 255.18 L179.63 255.16 L180.64 254.97 L181.65 255.03 L182.66 255.17 L183.66 255.67 L184.67 255.65 L185.68 256.03" fill="none" stroke="#000" stroke-width="1.0" stroke-linejoin="round"/>
<path d="M84.9 266.37 L85.91 266 L86.92 265.41 L87.92 265.06 L88.93 264.68 L89.94 264.8 L90.95 264.67 L91.95 264.54 L92.96 264.37 L93.97 264.39 L94.98 264.32 L95.99 264.32 L96.99 264.47 L98 264.39 L99.01 264.23 L100.02 263.85 L101.02 263.89 L102.03 264.23 L103.04 264.57 L104.05 264.85 L105.06 264.77 L106.06 264.59 L107.07 264.28 L108.08 264.09 L109.09 264.06 L110.09 264.23 L111.1 263.94 L112.11 263.99 L113.12 263.78 L114.13 263.82 L115.13 263.56 L116.14 263.84 L117.15 264.25 L118.16 264.15 L119.16 263.96 L120.17 263.86 L121.18 263.83 L122.19 263.83 L123.2 263.62 L124.2 263.53 L125.21 263.81 L126.22 263.95 L127.23 263.86 L128.23 263.91 L129.24 263.66 L130.25 263.7 L131.26 263.43 L132.27 263.49 L133.27 263.5 L134.28 263.34 L135.29 263.58 L136.3 263.82 L137.31 263.92 L138.31 263.53 L139.32 263.49 L140.33 263.41 L141.34 263.57 L142.34 263.32 L143.35 263.21 L144.36 263.05 L145.37 262.93 L146.38 262.95 L147.38 263.07 L148.39 263.34 L149.4 263.78 L150.41 263.69 L151.41 263.56 L152.42 263.4 L153.43 262.95 L154.44 263.02 L155.45 263.05 L156.45 263.36 L157.46 263.41 L158.47 263.45 L159.48 263.23 L160.48 263.51 L161.49 263.63 L162.5 263.64 L163.51 263.82 L164.52 263.6 L165.52 263.91 L166.53 263.8 L167.54 263.95 L168.55 263.56 L169.55 263.33 L170.56 263.35 L171.57 263.44 L172.58 263.4 L173.59 263.57 L174.59 263.57 L175.6 263.34 L176.61 263.5 L177.62 263.21 L178.62 263.19 L179.63 263.31 L180.64 263.57 L181.65 263.4 L182.66 263.45 L183.66 263.53 L184.67 263.67 L185.68 263.54" fill="none" stroke="#000" stroke-width="1.0" stroke-linejoin="round"/>
<path d="M84.9 270.72 L85.91 270.49 L86.92 270.18 L87.92 270.11 L88.93 269.81 L89.94 270 L90.95 269.93 L91.95 270.01 L92.96 269.46 L93.97 269.44 L94.98 269.51 L95.99 269.24 L96.99 269.03 L98 268.99 L99.01 268.76 L100.02 268.89 L101.02 269.1 L102.03 268.89 L103.04 268.68 L104.05 268.76 L105.06 268.94 L106.06 269.19 L107.07 268.96 L108.08 269.13 L109.09 269.15 L110.09 269.02 L111.1 268.7 L112.11 268.59 L113.12 268.81 L114.13 268.71 L115.13 268.28 L116.14 268.32 L117.15 268.19 L118.16 268.63 L119.16 268.84 L120.17 268.69 L121.18 268.4 L122.19 268.55 L123.2 268.64 L124.2 268.17 L125.21 268.03 L126.22 267.99 L127.23 267.87 L128.23 268.38 L129.24 267.85 L130.25 268.02 L131.26 267.95 L132.27 267.87 L133.27 267.77 L134.28 267.7 L135.29 267.82 L136.3 268.24 L137.31 268.07 L138.31 268.36 L139.32 268.24 L140.33 268.22 L141.34 268.24 L142.34 268.15 L143.35 268.19 L144.36 268.28 L145.37 268.1 L146.38 267.91 L147.38 268.16 L148.39 268.27 L149.4 267.9 L150.41 268.15 L151.41 268.36 L152.42 268.09 L153.43 268.11 L154.44 268.03 L155.45 268.24 L156.45 268.35 L157.46 268.49 L158.47 268.74 L159.48 268.4 L160.48 268.2 L161.49 267.93 L162.5 268.02 L163.51 268.03 L164.52 268.09 L165.52 267.99 L166.53 267.81 L167.54 267.61 L168.55 267.64 L169.55 267.75 L170.56 267.76 L171.57 267.88 L172.58 268.01 L173.59 267.81 L174.59 267.91 L175.6 267.6 L176.61 267.32 L177.62 267.38 L178.62 267.7 L179.63 267.97 L180.64 268.14 L181.65 268.26 L182.66 267.92 L183.66 267.83 L184.67 267.99 L185.68 268.03" fill="none" stroke="#000" stroke-width="1.0" stroke-linejoin="round"/>
<path d="M84.9 274.18 L85.91 273.82 L86.92 273.96 L87.92 273.89 L88.93 273.92 L89.94 273.98 L90.95 274.01 L91.95 274.08 L92.96 273.75 L93.97 273.71 L94.98 273.46 L95.99 273.2 L96.99 273.12 L98 273.08 L99.01 272.74 L100.02 272.7 L101.02 273.1 L102.03 273.08 L103.04 273.09 L104.05 273.16 L105.06 273.01 L106.06 272.72 L107.07 273.07 L108.08 272.93 L109.09 272.76 L110.09 272.57 L111.1 272.38 L112.11 272.31 L113.12 272.58 L114.13 272.63 L115.13 272.9 L116.14 272.45 L117.15 272.75 L118.16 272.66 L119.16 272.62 L120.17 272.49 L121.18 272.27 L122.19 272.47 L123.2 272.34 L124.2 272.32 L125.21 272.35 L126.22 272.38 L127.23 272.51 L128.23 272.56 L129.24 272.44 L130.25 272.57 L131.26 272.5 L132.27 272.25 L133.27 271.99 L134.28 272.02 L135.29 272.17 L136.3 272.61 L137.31 272.57 L138.31 272.82 L139.32 272.76 L140.33 272.93 L141.34 272.96 L142.34 273.03 L143.35 272.93 L144.36 272.77 L145.37 272.67 L146.38 272.38 L147.38 272.41 L148.39 272.52 L149.4 272.09 L150.41 272.24 L151.41 271.95 L152.42 272.09 L153.43 272.36 L154.44 272.62 L155.45 272.83 L156.45 272.52 L157.46 272.58 L158.47 272.31 L159.48 272.45 L160.48 272.51 L161.49 272.48 L162.5 272.73 L163.51 272.69 L164.52 272.53 L165.52 272.05 L166.53 271.94 L167.54 272.02 L168.55 272.56 L169.55 272.67 L170.56 272.53 L171.57 272.52 L172.58 272.46 L173.59 272.76 L174.59 272.77 L175.6 272.47 L176.61 272.68 L177.62 272.83 L178.62 272.87 L179.63 273.24 L180.64 273.04 L181.65 273.12 L182.66 272.89 L183.66 272.7 L184.67 272.52 L185.68 272.52" fill="none" stroke="#000" stroke-width="1.0" stroke-linejoin="round"/>
<path d="M84.9 277.25 L85.91 277.2 L86.92 276.93 L87.92 276.6 L88.93 276.61 L89.94 276.16 L90.95 276.31 L91.95 276.08 L92.96 276.09 L93.97 277.02 L94.98 276.96 L95.99 276.46 L96.99 276.46 L98 276.27 L99.01 276.4 L100.02 276.36 L101.02 276.38 L102.03 276.37 L103.04 276.08 L104.05 275.98 L105.06 275.96 L106.06 276.23 L107.07 275.84 L108.08 275.88 L109.09 275.75 L110.09 275.94 L111.1 276.29 L112.11 276.05 L113.12 276.02 L114.13 275.85 L115.13 275.67 L116.14 275.73 L117.15 275.65 L118.16 275.51 L119.16 275.68 L120.17 276 L121.18 275.94 L122.19 276.03 L123.2 276.01 L124.2 275.95 L125.21 276.3 L126.22 276.42 L127.23 276.34 L128.23 275.98 L129.24 275.8 L130.25 275.57 L131.26 275.33 L132.27 275.54 L133.27 275.77 L134.28 276.16 L135.29 276.38 L136.3 276.05 L137.31 276.13 L138.31 276.11 L139.32 276.5 L140.33 276.04 L141.34 275.87 L142.34 275.4 L143.35 275.26 L144.36 275.13 L145.37 275.26 L146.38 275.7 L147.38 275.43 L148.39 275.9 L149.4 276.27 L150.41 276.22 L151.41 276.29 L152.42 276.08 L153.43 275.68 L154.44 275.81 L155.45 275.52 L156.45 275.55 L157.46 275.41 L158.47 275.38 L159.48 275.7 L160.48 275.84 L161.49 275.74 L162.5 275.95 L163.51 275.58 L164.52 275.43 L165.52 275.42 L166.53 275.89 L167.54 276.29 L168.55 276.28 L169.55 275.84 L170.56 275.85 L171.57 276.14 L172.58 275.74 L173.59 276.04 L174.59 276.04 L175.6 275.88 L176.61 275.93 L177.62 275.43 L178.62 275.42 L179.63 275.49 L180.64 275.36 L181.65 275.43 L182.66 275.57 L183.66 275.71 L184.67 275.88 L185.68 275.57" fill="none" stroke="#000" stroke-width="1.0" stroke-linejoin="round"/>
<path d="M84.9 279.71 L85.91 279.5 L86.92 279.29 L87.92 279.21 L88.93 279.18 L89.94 279.35 L90.95 279.2 L91.95 279.33 L92.96 279.25 L93.97 279.21 L94.98 279.39 L95.99 279.45 L96.99 279.34 L98 279.13 L99.01 279.1 L100.02 279.25 L101.02 279.31 L102.03 279.23 L103.04 279.09 L104.05 278.97 L105.06 279.1 L106.06 279.22 L107.07 279.02 L108.08 279.09 L109.09 278.95 L110.09 278.96 L111.1 279.12 L112.11 278.93 L113.12 278.83 L114.13 278.71 L115.13 278.66 L116.14 278.71 L117.15 278.73 L118.16 278.91 L119.16 278.9 L120.17 279.1 L121.18 279.01 L122.19 279.12 L123.2 279.14 L124.2 279.04 L125.21 278.99 L126.22 278.91 L127.23 278.9 L128.23 278.91 L129.24 278.84 L130.25 278.62 L131.26 278.6 L132.27 278.57 L133.27 278.69 L134.28 278.54 L135.29 278.69 L136.3 278.59 L137.31 278.65 L138.31 278.76 L139.32 278.83 L140.33 278.73 L141.34 278.75 L142.34 278.81 L143.35 278.88 L144.36 278.91 L145.37 278.85 L146.38 278.9 L147.38 278.84 L148.39 278.84 L149.4 278.79 L150.41 278.77 L151.41 278.73 L152.42 278.47 L153.43 278.51 L154.44 278.56 L155.45 278.56 L156.45 278.49 L157.46 278.67 L158.47 278.78 L159.48 278.76 L160.48 278.79 L161.49 278.68 L162.5 278.95 L163.51 278.94 L164.52 279.05 L165.52 278.8 L166.53 278.8 L167.54 278.74 L168.55 278.9 L169.55 278.81 L170.56 278.84 L171.57 279.04 L172.58 278.83 L173.59 278.89 L174.59 278.85 L175.6 278.68 L176.61 278.8 L177.62 278.96 L178.62 278.94 L179.63 278.9 L180.64 279.01 L181.65 278.88 L182.66 278.94 L183.66 279.04 L184.67 279.09 L185.68 279.2" fill="none" stroke="#000" stroke-width="1.0" stroke-linejoin="round"/>
<path d="M84.9 281.33 L85.91 281.58 L86.92 281.58 L87.92 281.61 L88.93 281.47 L89.94 281.51 L90.95 281.51 L91.95 281.44 L92.96 281.46 L93.97 281.27 L94.98 281.21 L95.99 281.23 L96.99 281.22 L98 281.34 L99.01 281.2 L100.02 281.19 L101.02 280.95 L102.03 281.04 L103.04 281.14 L104.05 281.32 L105.06 281.26 L106.06 281.25 L107.07 281.16 L108.08 281.05 L109.09 281.17 L110.09 281.3 L111.1 281.11 L112.11 281.16 L113.12 281.12 L114.13 280.98 L115.13 280.82 L116.14 281.02 L117.15 280.9 L118.16 281.03 L119.16 281.06 L120.17 280.78 L121.18 280.8 L122.19 280.74 L123.2 280.88 L124.2 280.86 L125.21 280.92 L126.22 280.95 L127.23 280.83 L128.23 280.93 L129.24 280.92 L130.25 280.97 L131.26 280.99 L132.27 280.98 L133.27 281.05 L134.28 281.07 L135.29 281.1 L136.3 281.12 L137.31 281.31 L138.31 281.2 L139.32 281.12 L140.33 281.07 L141.34 281.13 L142.34 281.13 L143.35 281.13 L144.36 281.22 L145.37 281.32 L146.38 281.36 L147.38 281.21 L148.39 281.29 L149.4 280.92 L150.41 281.05 L151.41 281.08 L152.42 281.25 L153.43 281.1 L154.44 281.01 L155.45 281.03 L156.45 281.04 L157.46 280.93 L158.47 280.87 L159.48 280.75 L160.48 280.86 L161.49 280.84 L162.5 280.97 L163.51 280.93 L164.52 280.98 L165.52 280.97 L166.53 281.03 L167.54 281.05 L168.55 280.71 L169.55 280.84 L170.56 280.86 L171.57 281.01 L172.58 281.04 L173.59 281.2 L174.59 281.32 L175.6 281.43 L176.61 281.23 L177.62 281.14 L178.62 281.15 L179.63 281.24 L180.64 281.23 L181.65 281.37 L182.66 281.39 L183.66 281.37 L184.67 281.46 L185.68 281.43" fill="none" stroke="#000" stroke-width="1.0" stroke-linejoin="round"/>
<path d="M84.9 282.71 L85.91 282.74 L86.92 282.59 L87.92 282.44 L88.93 282.19 L89.94 282.25 L90.95 282.27 L91.95 282.18 L92.96 282.11 L93.97 282.18 L94.98 282.4 L95.99 282.27 L96.99 282.51 L98 282.48 L99.01 282.45 L100.02 282.37 L101.02 282.39 L102.03 282.47 L103.04 282.4 L104.05 282.4 L105.06 282.45 L106.06 282.32 L107.07 282.46 L108.08 282.47 L109.09 282.65 L110.09 282.49 L111.1 282.59 L112.11 282.19 L113.12 282.01 L114.13 282.18 L115.13 282.38 L116.14 282.66 L117.15 282.37 L118.16 282.2 L119.16 282.07 L120.17 282.11 L121.18 282.06 L122.19 282.11 L123.2 282.12 L124.2 282.16 L125.21 282.19 L126.22 282.21 L127.23 282.12 L128.23 282.25 L129.24 282.02 L130.25 282.06 L131.26 282.1 L132.27 282.03 L133.27 282.04 L134.28 282.13 L135.29 282.18 L136.3 282.3 L137.31 282.19 L138.31 282.25 L139.32 282.27 L140.33 282.38 L141.34 282.2 L142.34 282.13 L143.35 282.04 L144.36 282.17 L145.37 282.47 L146.38 282.55 L147.38 282.23 L148.39 282.27 L149.4 282.12 L150.41 282.25 L151.41 282.31 L152.42 282.14 L153.43 282.27 L154.44 282.24 L155.45 282.23 L156.45 282.14 L157.46 282.11 L158.47 281.92 L159.48 282.13 L160.48 282.01 L161.49 282.17 L162.5 282.45 L163.51 282.44 L164.52 282.31 L165.52 282.28 L166.53 282.11 L167.54 282.08 L168.55 282.2 L169.55 282.06 L170.56 282.21 L171.57 282.34 L172.58 282.43 L173.59 282.55 L174.59 282.65 L175.6 282.52 L176.61 282.57 L177.62 282.54 L178.62 282.68 L179.63 282.38 L180.64 282.46 L181.65 282.23 L182.66 282.1 L183.66 282.15 L184.67 282.25 L185.68 282.44" fill="none" stroke="#000" stroke-width="1.0" stroke-linejoin="round"/>
<path d="M84.9 283.72 L85.91 283.77 L86.92 283.82 L87.92 283.76 L88.93 283.53 L89.94 283.5 L90.95 283.4 L91.95 283.51 L92.96 283.5 L93.97 283.46 L94.98 283.45 L95.99 283.37 L96.99 283.36 L98 283.56 L99.01 283.76 L100.02 283.79 L101.02 283.65 L102.03 283.2 L103.04 283.11 L104.05 283.16 L105.06 283.3 L106.06 283.37 L107.07 283.4 L108.08 283.44 L109.09 283.53 L110.09 283.45 L111.1 283.6 L112.11 283.47 L113.12 283.33 L114.13 283.43 L115.13 283.28 L116.14 283.3 L117.15 283.07 L118.16 283.11 L119.16 283.4 L120.17 283.51 L121.18 283.66 L122.19 283.6 L123.2 283.41 L124.2 283.35 L125.21 283.07 L126.22 283.27 L127.23 283.31 L128.23 283.41 L129.24 283.46 L130.25 283.42 L131.26 283.29 L132.27 283.4 L133.27 283.42 L134.28 283.42 L135.29 283.48 L136.3 283.47 L137.31 283.45 L138.31 283.38 L139.32 283.57 L140.33 283.63 L141.34 283.82 L142.34 283.6 L143.35 283.43 L144.36 283.32 L145.37 283.2 L146.38 283.27 L147.38 283.28 L148.39 283.46 L149.4 283.23 L150.41 283.14 L151.41 283.3 L152.42 283.3 L153.43 283.32 L154.44 283.36 L155.45 283.53 L156.45 283.38 L157.46 283.3 L158.47 283.23 L159.48 283.41 L160.48 283.58 L161.49 283.67 L162.5 283.5 L163.51 283.38 L164.52 283.31 L165.52 283.41 L166.53 283.6 L167.54 283.54 L168.55 283.74 L169.55 283.7 L170.56 283.84 L171.57 283.68 L172.58 283.57 L173.59 283.48 L174.59 283.21 L175.6 283.41 L176.61 283.37 L177.62 283.43 L178.62 283.34 L179.63 283.24 L180.64 283.32 L181.65 283.61 L182.66 283.88 L183.66 283.83 L184.67 283.74 L185.68 283.54" fill="none" stroke="#000" stroke-width="1.0" stroke-linejoin="round"/>
<path d="M84.9 286.35 L85.91 286.27 L86.92 286.08 L87.92 286.05 L88.93 286.09 L89.94 286.14 L90.95 286.05 L91.95 286.18 L92.96 286.16 L93.97 286.1 L94.98 286.07 L95.99 286.01 L96.99 286.06 L98 286.08 L99.01 286.06 L100.02 286.07 L101.02 285.88 L102.03 285.97 L103.04 285.84 L104.05 285.78 L105.06 286.09 L106.06 285.91 L107.07 285.76 L108.08 285.71 L109.09 285.63 L110.09 285.84 L111.1 285.82 L112.11 285.74 L113.12 285.97 L114.13 285.94 L115.13 286.05 L116.14 285.83 L117.15 285.72 L118.16 285.91 L119.16 285.91 L120.17 285.92 L121.18 285.72 L122.19 285.82 L123.2 285.93 L124.2 285.76 L125.21 285.96 L126.22 285.83 L127.23 286.16 L128.23 286.13 L129.24 286.13 L130.25 286.14 L131.26 285.83 L132.27 285.7 L133.27 285.71 L134.28 285.74 L135.29 285.83 L136.3 286.03 L137.31 285.85 L138.31 285.76 L139.32 285.83 L140.33 285.74 L141.34 285.68 L142.34 285.69 L143.35 285.76 L144.36 285.98 L145.37 286.22 L146.38 286.15 L147.38 286.19 L148.39 286.15 L149.4 286.12 L150.41 286.27 L151.41 286.12 L152.42 286.16 L153.43 286.01 L154.44 285.95 L155.45 285.88 L156.45 285.92 L157.46 285.7 L158.47 285.68 L159.48 285.5 L160.48 285.51 L161.49 285.77 L162.5 285.76 L163.51 285.79 L164.52 285.97 L165.52 285.96 L166.53 286.13 L167.54 286.26 L168.55 286.14 L169.55 286.13 L170.56 286.06 L171.57 286.14 L172.58 286.24 L173.59 286.05 L174.59 286.08 L175.6 285.87 L176.61 285.8 L177.62 285.87 L178.62 285.81 L179.63 285.91 L180.64 285.83 L181.65 285.81 L182.66 286.11 L183.66 285.95 L184.67 285.83 L185.68 285.61" fill="none" stroke="#000" stroke-width="1.0" stroke-linejoin="round"/>
<path d="M84.9 289.05 L85.91 289.1 L86.92 289 L87.92 288.94 L88.93 288.8 L89.94 288.76 L90.95 288.75 L91.95 288.81 L92.96 288.79 L93.97 288.67 L94.98 288.65 L95.99 288.47 L96.99 288.77 L98 288.67 L99.01 288.5 L100.02 288.36 L101.02 288.51 L102.03 288.39 L103.04 288.55 L104.05 288.69 L105.06 288.64 L106.06 288.63 L107.07 288.63 L108.08 288.45 L109.09 288.58 L110.09 288.59 L111.1 288.5 L112.11 288.57 L113.12 288.54 L114.13 288.84 L115.13 288.7 L116.14 288.77 L117.15 288.52 L118.16 288.67 L119.16 288.53 L120.17 288.46 L121.18 288.52 L122.19 288.47 L123.2 288.39 L124.2 288.55 L125.21 288.44 L126.22 288.57 L127.23 288.5 L128.23 288.48 L129.24 288.36 L130.25 288.62 L131.26 288.71 L132.27 288.6 L133.27 288.4 L134.28 288.28 L135.29 288.31 L136.3 288.67 L137.31 288.79 L138.31 288.68 L139.32 288.66 L140.33 288.62 L141.34 288.38 L142.34 288.5 L143.35 288.69 L144.36 288.78 L145.37 288.82 L146.38 288.74 L147.38 288.71 L148.39 288.75 L149.4 288.69 L150.41 288.48 L151.41 288.51 L152.42 288.61 L153.43 288.76 L154.44 288.83 L155.45 288.65 L156.45 288.44 L157.46 288.58 L158.47 288.62 L159.48 288.7 L160.48 288.76 L161.49 288.66 L162.5 288.68 L163.51 288.77 L164.52 288.69 L165.52 288.56 L166.53 288.73 L167.54 288.71 L168.55 288.7 L169.55 288.72 L170.56 288.81 L171.57 288.75 L172.58 288.78 L173.59 288.7 L174.59 288.59 L175.6 288.38 L176.61 288.65 L177.62 288.54 L178.62 288.65 L179.63 288.89 L180.64 289.06 L181.65 289.09 L182.66 288.92 L183.66 288.75 L184.67 288.48 L185.68 288.39" fill="none" stroke="#000" stroke-width="1.0" stroke-linejoin="round"/>
<path d="M186.28 286.58 L187.28 287.4 L188.29 287.87 L189.29 288.4 L190.29 288.87 L191.3 289.17 L192.3 289.35 L193.31 289.55 L194.31 289.82 L195.31 290.22 L196.32 290.44 L197.32 290.68 L198.33 290.87 L199.33 291.08 L200.33 291.44 L201.34 291.58 L202.34 291.7 L203.35 291.69 L204.35 291.87 L205.35 291.91 L206.36 291.98 L207.36 292.01 L208.36 292.15 L209.37 292.18 L210.37 292.03 L211.38 291.86 L212.38 292.05 L213.38 292.25 L214.39 292.41 L215.39 292.44 L216.4 292.54 L217.4 292.43" fill="none" stroke="#000" stroke-width="0.8" stroke-linejoin="round"/>
<path d="M186.28 288.91 L187.28 289.19 L188.29 289.77 L189.29 290.32 L190.29 290.39 L191.3 290.87 L192.3 291.19 L193.31 291.27 L194.31 291.73 L195.31 291.42 L196.32 291.72 L197.32 291.71 L198.33 291.81 L199.33 291.86 L200.33 292.1 L201.34 292.19 L202.34 292.3 L203.35 292.32 L204.35 292.45 L205.35 292.72 L206.36 292.84 L207.36 293.01 L208.36 293.12 L209.37 292.97 L210.37 293.09 L211.38 293.06 L212.38 292.92 L213.38 293.04 L214.39 292.97 L215.39 293.01 L216.4 293.13 L217.4 293.08" fill="none" stroke="#000" stroke-width="0.8" stroke-linejoin="round"/>
<path d="M186.28 290.67 L187.28 290.91 L188.29 291.33 L189.29 291.5 L190.29 291.6 L191.3 291.88 L192.3 292.06 L193.31 292.43 L194.31 292.73 L195.31 292.82 L196.32 292.89 L197.32 292.86 L198.33 292.73 L199.33 293.03 L200.33 293.17 L201.34 293.23 L202.34 293.16 L203.35 293.07 L204.35 293.15 L205.35 293.46 L206.36 293.46 L207.36 293.32 L208.36 293.43 L209.37 293.36 L210.37 293.11 L211.38 293.13 L212.38 293.19 L213.38 293.34 L214.39 293.37 L215.39 293.38 L216.4 293.52 L217.4 293.6" fill="none" stroke="#000" stroke-width="0.8" stroke-linejoin="round"/>
<path d="M186.28 291.48 L187.28 291.98 L188.29 292.29 L189.29 292.4 L190.29 292.55 L191.3 292.69 L192.3 292.99 L193.31 292.97 L194.31 293.11 L195.31 293.12 L196.32 293.21 L197.32 293.41 L198.33 293.54 L199.33 293.52 L200.33 293.54 L201.34 293.46 L202.34 293.48 L203.35 293.5 L204.35 293.65 L205.35 293.76 L206.36 294.02 L207.36 293.98 L208.36 293.89 L209.37 294.09 L210.37 293.91 L211.38 293.83 L212.38 293.78 L213.38 293.74 L214.39 293.82 L215.39 293.84 L216.4 293.85 L217.4 294.02" fill="none" stroke="#000" stroke-width="0.8" stroke-linejoin="round"/>
<path d="M186.18 293.4 L217.4 294.21 L217.4 297.67 L186.18 298.56 Z" fill="#151515"/>
<line x1="84.6" y1="301.8" x2="84.6" y2="256.13" stroke="#000" stroke-width="1.3"/>
<line x1="185.68" y1="227.56" x2="185.68" y2="299.44" stroke="#000" stroke-width="1.3"/>
<line x1="185.88" y1="284.42" x2="185.88" y2="299.44" stroke="#000" stroke-width="2.0"/>
<path d="M60 297.67 L60.8 295.32 L61.6 299.74 L62.4 297.67" fill="none" stroke="#111" stroke-width="0.9"/>
<line x1="239.3" y1="232.8" x2="239.3" y2="290" stroke="#111" stroke-width="1.35"/>
<path d="M239.3 229.5 L236.7 235.3 L241.9 235.3 Z" fill="#111"/>
<text x="239.5" y="227" font-size="7.6" text-anchor="middle" fill="#111" stroke="#111" stroke-width="0.22">750µM</text>
<text x="239.8" y="299.4" font-size="7.6" text-anchor="middle" fill="#111" stroke="#111" stroke-width="0.22">16µM (×2)</text>
</g>
<g id="panelC" font-family='"Liberation Sans", Arial, Helvetica, sans-serif'>
<text x="21.3" y="393.8" font-size="10.8" text-anchor="start" fill="#000" font-weight="700">C</text>
<text x="150.5" y="395.7" font-size="9.7" text-anchor="middle" fill="#111" stroke="#111" stroke-width="0.22">HKP</text>
<line x1="53.4" y1="402.6" x2="53.4" y2="510.8" stroke="#262626" stroke-width="1.4"/>
<line x1="49.4" y1="404.66" x2="53.4" y2="404.66" stroke="#262626" stroke-width="1.0"/>
<text x="47.4" y="407.46" font-size="8.3" text-anchor="end" fill="#111" stroke="#111" stroke-width="0.22">35</text>
<line x1="49.4" y1="416.38" x2="53.4" y2="416.38" stroke="#262626" stroke-width="1.0"/>
<text x="47.4" y="419.18" font-size="8.3" text-anchor="end" fill="#111" stroke="#111" stroke-width="0.22">30</text>
<line x1="49.4" y1="428.1" x2="53.4" y2="428.1" stroke="#262626" stroke-width="1.0"/>
<text x="47.4" y="430.9" font-size="8.3" text-anchor="end" fill="#111" stroke="#111" stroke-width="0.22">25</text>
<line x1="49.4" y1="439.82" x2="53.4" y2="439.82" stroke="#262626" stroke-width="1.0"/>
<text x="47.4" y="442.62" font-size="8.3" text-anchor="end" fill="#111" stroke="#111" stroke-width="0.22">20</text>
<line x1="49.4" y1="451.54" x2="53.4" y2="451.54" stroke="#262626" stroke-width="1.0"/>
<text x="47.4" y="454.34" font-size="8.3" text-anchor="end" fill="#111" stroke="#111" stroke-width="0.22">15</text>
<line x1="49.4" y1="463.26" x2="53.4" y2="463.26" stroke="#262626" stroke-width="1.0"/>
<text x="47.4" y="466.06" font-size="8.3" text-anchor="end" fill="#111" stroke="#111" stroke-width="0.22">10</text>
<line x1="49.4" y1="474.98" x2="53.4" y2="474.98" stroke="#262626" stroke-width="1.0"/>
<text x="47.4" y="477.78" font-size="8.3" text-anchor="end" fill="#111" stroke="#111" stroke-width="0.22">5</text>
<line x1="49.4" y1="486.7" x2="53.4" y2="486.7" stroke="#262626" stroke-width="1.0"/>
<text x="47.4" y="489.5" font-size="8.3" text-anchor="end" fill="#111" stroke="#111" stroke-width="0.22">0</text>
<line x1="49.4" y1="498.42" x2="53.4" y2="498.42" stroke="#262626" stroke-width="1.0"/>
<text x="47.4" y="501.22" font-size="8.3" text-anchor="end" fill="#111" stroke="#111" stroke-width="0.22">−5</text>
<line x1="49.4" y1="510.14" x2="53.4" y2="510.14" stroke="#262626" stroke-width="1.0"/>
<text x="47.4" y="512.94" font-size="8.3" text-anchor="end" fill="#111" stroke="#111" stroke-width="0.22">−10</text>
<line x1="53.4" y1="510.14" x2="228.4" y2="510.14" stroke="#262626" stroke-width="1.4"/>
<line x1="65.3" y1="510.14" x2="65.3" y2="513.54" stroke="#262626" stroke-width="1.0"/>
<text x="65.3" y="524" font-size="8.3" text-anchor="middle" fill="#111" stroke="#111" stroke-width="0.22">0</text>
<line x1="97.45" y1="510.14" x2="97.45" y2="513.54" stroke="#262626" stroke-width="1.0"/>
<text x="97.45" y="524" font-size="8.3" text-anchor="middle" fill="#111" stroke="#111" stroke-width="0.22">50</text>
<line x1="129.6" y1="510.14" x2="129.6" y2="513.54" stroke="#262626" stroke-width="1.0"/>
<text x="126.4" y="524" font-size="8.3" text-anchor="middle" fill="#111" stroke="#111" stroke-width="0.22">100</text>
<line x1="161.75" y1="510.14" x2="161.75" y2="513.54" stroke="#262626" stroke-width="1.0"/>
<text x="161.75" y="524" font-size="8.3" text-anchor="middle" fill="#111" stroke="#111" stroke-width="0.22">150</text>
<line x1="193.9" y1="510.14" x2="193.9" y2="513.54" stroke="#262626" stroke-width="1.0"/>
<text x="193.9" y="524" font-size="8.3" text-anchor="middle" fill="#111" stroke="#111" stroke-width="0.22">200</text>
<line x1="226.05" y1="510.14" x2="226.05" y2="513.54" stroke="#262626" stroke-width="1.0"/>
<text x="226.05" y="524" font-size="8.3" text-anchor="middle" fill="#111" stroke="#111" stroke-width="0.22">250</text>
<text x="140.8" y="537.3" font-size="10.6" text-anchor="middle" fill="#111" textLength="32.4" lengthAdjust="spacingAndGlyphs" stroke="#111" stroke-width="0.22">Time (s)</text>
<text x="31.8" y="463.7" font-size="10.4" text-anchor="middle" fill="#111" textLength="11.2" lengthAdjust="spacingAndGlyphs" transform="rotate(-90 31.8 463.7)" stroke="#111" stroke-width="0.22">RU</text>
<path d="M65.7 486.36 L66.6 422.88 L67.51 414.72 L68.41 414.12 L69.32 414.62 L70.22 415.19 L71.13 415.51 L72.03 415.94 L72.94 416.13 L73.84 416.47 L74.75 416.9 L75.65 417.06 L76.56 417.25 L77.46 417.29 L78.37 417.77 L79.27 417.93 L80.18 417.82 L81.08 417.88 L81.99 417.82 L82.89 417.97 L83.8 418.14 L84.7 418.4 L85.6 418.63 L86.51 418.8 L87.41 419.26 L88.32 419.44 L89.22 419.77 L90.13 419.99 L91.03 420.17 L91.94 420.33 L92.84 420.11 L93.75 419.56 L94.65 419.35 L95.56 419.63 L96.46 420.08 L97.37 420.43 L98.27 420.62 L99.18 420.87 L100.08 420.72 L100.99 420.61 L101.89 420.63 L102.8 420.7 L103.7 420.77 L104.6 420.92 L105.51 421.02 L106.41 421.26 L107.32 421.32 L108.22 421.7 L109.13 421.65 L110.03 421.97 L110.94 421.86 L111.84 421.9 L112.75 421.48 L113.65 421.62 L114.56 421.71 L115.46 421.93 L116.37 422.06 L117.27 421.99 L118.18 421.94 L119.08 422.21 L119.99 422.24 L120.89 422.35 L121.8 422.4 L122.7 422.57 L123.6 422.37 L124.51 422.29 L125.41 422.26 L126.32 422.55 L127.22 422.68 L128.13 422.58 L129.03 422.62 L129.94 422.45 L130.84 422.73 L131.75 422.85 L132.65 423.14 L133.56 423.31 L134.46 423.36 L135.37 423.05 L136.27 422.91 L137.18 422.95 L138.08 422.75 L138.99 422.7 L139.89 422.96 L140.8 423.3 L141.7 423.14 L142.6 423.47 L143.51 423.56 L144.41 423.55 L145.32 423.4 L146.22 423.34 L147.13 423.59 L148.03 423.52 L148.94 423.62 L149.84 423.56 L150.75 423.35 L151.65 423.15 L152.56 423.29 L153.46 423.39 L154.37 423.79 L155.27 423.92 L156.18 423.84 L157.08 423.92 L157.99 423.92 L158.89 424.01 L159.8 423.74 L160.7 423.55 L161.6 423.55 L162.51 423.66 L163.41 423.57 L164.32 423.98 L165.22 424.05 L166.13 424.02 L167.03 424.04 L167.94 423.86 L168.84 423.54 L169.75 423.88 L170.65 423.6 L171.56 423.92 L172.46 424.21 L173.37 424.06 L174.27 424.1 L175.18 423.82 L176.08 423.89 L176.99 423.44 L177.89 423.69 L178.8 423.97 L179.7 424.14 L180.6 424.23 L181.51 464.81 L182.41 499.3 L183.32 499.07 L184.22 498.91 L185.13 498.66 L186.03 498.25 L186.94 497.89 L187.84 497.63 L188.75 497.57 L189.65 497.48 L190.56 497.04 L191.46 496.56 L192.37 496.41 L193.27 496.67 L194.18 496.79 L195.08 496.69 L195.99 496.89 L196.89 496.73 L197.8 496.73 L198.7 496.36 L199.6 496.1 L200.51 496.08 L201.41 495.92 L202.32 495.8 L203.22 495.97 L204.13 495.76 L205.03 495.89 L205.94 495.74 L206.84 495.79 L207.75 495.58 L208.65 495.65 L209.56 495.42 L210.46 495.49 L211.37 495.16 L212.27 494.91 L213.18 494.7 L214.08 494.78 L214.99 494.58 L215.89 494.71 L216.8 494.51 L217.7 494.83" fill="none" stroke="#000" stroke-width="1.0" stroke-linejoin="round"/>
<path d="M65.7 486.28 L66.6 438.18 L67.51 432.23 L68.41 431.86 L69.32 431.62 L70.22 431.79 L71.13 432.05 L72.03 432.36 L72.94 432.95 L73.84 433.12 L74.75 433.45 L75.65 433.19 L76.56 433.46 L77.46 434.08 L78.37 434.06 L79.27 434.14 L80.18 434.18 L81.08 434.12 L81.99 434.12 L82.89 434.27 L83.8 434.26 L84.7 434.24 L85.6 434.56 L86.51 434.64 L87.41 434.61 L88.32 434.65 L89.22 434.85 L90.13 434.78 L91.03 434.99 L91.94 434.94 L92.84 435.01 L93.75 435.42 L94.65 435.24 L95.56 435.21 L96.46 435.23 L97.37 435.6 L98.27 435.52 L99.18 435.52 L100.08 435.35 L100.99 435.81 L101.89 436.06 L102.8 435.82 L103.7 435.83 L104.6 435.87 L105.51 436.33 L106.41 435.94 L107.32 436 L108.22 435.82 L109.13 436.01 L110.03 436.29 L110.94 436.12 L111.84 436.08 L112.75 436.1 L113.65 436.52 L114.56 436.4 L115.46 436.42 L116.37 436.24 L117.27 436.3 L118.18 436.55 L119.08 436.45 L119.99 436.61 L120.89 436.89 L121.8 436.8 L122.7 437.04 L123.6 436.91 L124.51 437.08 L125.41 437.07 L126.32 437.35 L127.22 437.38 L128.13 437.51 L129.03 437.38 L129.94 437.21 L130.84 437.16 L131.75 437.23 L132.65 436.76 L133.56 436.79 L134.46 436.6 L135.37 436.83 L136.27 437.16 L137.18 437.14 L138.08 437.21 L138.99 437.25 L139.89 437.34 L140.8 437.28 L141.7 437.14 L142.6 437.34 L143.51 436.82 L144.41 436.96 L145.32 436.65 L146.22 436.68 L147.13 437.17 L148.03 437.52 L148.94 437.44 L149.84 437.68 L150.75 437.45 L151.65 437.53 L152.56 437.38 L153.46 437.37 L154.37 437.51 L155.27 437.53 L156.18 437.59 L157.08 437.56 L157.99 437.62 L158.89 437.74 L159.8 437.78 L160.7 437.75 L161.6 437.3 L162.51 437.1 L163.41 436.88 L164.32 437.08 L165.22 437.21 L166.13 437.59 L167.03 437.51 L167.94 437.51 L168.84 437.45 L169.75 437.27 L170.65 437.32 L171.56 437.17 L172.46 437.75 L173.37 437.77 L174.27 437.79 L175.18 437.86 L176.08 437.67 L176.99 437.55 L177.89 437.55 L178.8 437.42 L179.7 437.56 L180.6 437.78 L181.51 468.87 L182.41 495.03 L183.32 494.68 L184.22 494.44 L185.13 494.09 L186.03 494.45 L186.94 494.47 L187.84 494.44 L188.75 494.12 L189.65 493.79 L190.56 493.73 L191.46 493.55 L192.37 493.6 L193.27 493.73 L194.18 493.85 L195.08 493.77 L195.99 493.51 L196.89 493.05 L197.8 493.02 L198.7 493.24 L199.6 493.24 L200.51 493.12 L201.41 493 L202.32 493.25 L203.22 493.07 L204.13 493.14 L205.03 492.73 L205.94 492.94 L206.84 492.63 L207.75 492.75 L208.65 492.43 L209.56 492.66 L210.46 493.03 L211.37 493.09 L212.27 493.2 L213.18 492.96 L214.08 492.52 L214.99 492.53 L215.89 492.67 L216.8 492.7 L217.7 493.12" fill="none" stroke="#000" stroke-width="1.0" stroke-linejoin="round"/>
<path d="M65.7 486.31 L66.6 452.71 L67.51 448.71 L68.41 448.25 L69.32 448.46 L70.22 448.42 L71.13 448.23 L72.03 448.42 L72.94 448.39 L73.84 449.06 L74.75 449.42 L75.65 449.31 L76.56 449.32 L77.46 448.92 L78.37 448.9 L79.27 449.07 L80.18 449.08 L81.08 449.68 L81.99 449.41 L82.89 449.68 L83.8 449.79 L84.7 450.43 L85.6 450.24 L86.51 450 L87.41 449.73 L88.32 449.87 L89.22 449.59 L90.13 449.92 L91.03 450.31 L91.94 450.22 L92.84 450.37 L93.75 450.53 L94.65 450.45 L95.56 450.32 L96.46 450.25 L97.37 450.04 L98.27 450.3 L99.18 450.58 L100.08 450.71 L100.99 450.6 L101.89 450.73 L102.8 450.72 L103.7 450.63 L104.6 450.36 L105.51 450.7 L106.41 450.78 L107.32 450.54 L108.22 450.48 L109.13 450.53 L110.03 450.91 L110.94 450.91 L111.84 451.11 L112.75 451.41 L113.65 451.48 L114.56 451.24 L115.46 450.96 L116.37 450.96 L117.27 451.4 L118.18 451.6 L119.08 451.57 L119.99 451.06 L120.89 451.09 L121.8 451.21 L122.7 451.24 L123.6 451.57 L124.51 451.44 L125.41 451.52 L126.32 451.43 L127.22 451.42 L128.13 451.21 L129.03 451.24 L129.94 451.78 L130.84 451.51 L131.75 451.69 L132.65 451.63 L133.56 451.24 L134.46 451.17 L135.37 451.27 L136.27 451.52 L137.18 451.41 L138.08 451.26 L138.99 451.15 L139.89 451.52 L140.8 451.58 L141.7 451.81 L142.6 451.66 L143.51 451.7 L144.41 451.68 L145.32 451.74 L146.22 451.69 L147.13 452.03 L148.03 452 L148.94 451.87 L149.84 451.74 L150.75 451.38 L151.65 451.4 L152.56 451.59 L153.46 451.88 L154.37 452.35 L155.27 452.34 L156.18 452.2 L157.08 451.74 L157.99 451.71 L158.89 451.61 L159.8 451.63 L160.7 451.8 L161.6 451.77 L162.51 451.34 L163.41 451.2 L164.32 451.09 L165.22 451.14 L166.13 451.4 L167.03 451.67 L167.94 451.95 L168.84 452.06 L169.75 452.09 L170.65 452.01 L171.56 452.04 L172.46 452.03 L173.37 452.03 L174.27 452.05 L175.18 451.77 L176.08 451.58 L176.99 451.6 L177.89 451.65 L178.8 451.83 L179.7 451.89 L180.6 451.89 L181.51 473.66 L182.41 492.54 L183.32 492.6 L184.22 492.28 L185.13 491.88 L186.03 491.87 L186.94 491.26 L187.84 491.14 L188.75 491.21 L189.65 491.01 L190.56 491.03 L191.46 491.11 L192.37 491 L193.27 491.07 L194.18 491.19 L195.08 490.96 L195.99 490.74 L196.89 490.4 L197.8 490.17 L198.7 490.41 L199.6 490.5 L200.51 490.56 L201.41 490.45 L202.32 489.93 L203.22 490.32 L204.13 490.39 L205.03 490.41 L205.94 490.03 L206.84 489.78 L207.75 489.71 L208.65 489.8 L209.56 490.19 L210.46 490.05 L211.37 490.06 L212.27 489.75 L213.18 489.24 L214.08 489.53 L214.99 489.57 L215.89 489.64 L216.8 489.76 L217.7 489.63" fill="none" stroke="#000" stroke-width="1.0" stroke-linejoin="round"/>
<path d="M65.7 486.85 L66.6 464.64 L67.51 462.08 L68.41 461.75 L69.32 461.35 L70.22 461.46 L71.13 461.74 L72.03 461.75 L72.94 462.31 L73.84 462.68 L74.75 462.56 L75.65 462.58 L76.56 462.27 L77.46 462.22 L78.37 462.08 L79.27 461.89 L80.18 462.18 L81.08 462.49 L81.99 462.71 L82.89 462.77 L83.8 463.05 L84.7 463.05 L85.6 462.95 L86.51 462.81 L87.41 462.69 L88.32 462.74 L89.22 462.62 L90.13 462.87 L91.03 463.09 L91.94 463.36 L92.84 463.14 L93.75 463.11 L94.65 462.8 L95.56 462.76 L96.46 462.99 L97.37 462.98 L98.27 463.24 L99.18 463.2 L100.08 463.42 L100.99 463.01 L101.89 463.18 L102.8 463.18 L103.7 463.53 L104.6 463.67 L105.51 463.58 L106.41 463.87 L107.32 463.79 L108.22 463.92 L109.13 463.74 L110.03 463.49 L110.94 463.41 L111.84 463.41 L112.75 463.44 L113.65 463.51 L114.56 463.81 L115.46 463.71 L116.37 463.5 L117.27 463.24 L118.18 463.39 L119.08 463.59 L119.99 463.79 L120.89 463.65 L121.8 463.63 L122.7 463.9 L123.6 463.77 L124.51 463.81 L125.41 463.77 L126.32 463.64 L127.22 463.7 L128.13 463.72 L129.03 463.81 L129.94 463.76 L130.84 463.39 L131.75 463.19 L132.65 463.01 L133.56 463.34 L134.46 463.57 L135.37 463.78 L136.27 464.01 L137.18 463.9 L138.08 463.57 L138.99 463.44 L139.89 463.48 L140.8 463.56 L141.7 463.76 L142.6 463.9 L143.51 463.83 L144.41 464.1 L145.32 463.91 L146.22 463.77 L147.13 463.93 L148.03 464.04 L148.94 464.28 L149.84 463.91 L150.75 464.24 L151.65 464.49 L152.56 464.29 L153.46 464.07 L154.37 463.81 L155.27 463.95 L156.18 464.29 L157.08 464.4 L157.99 464.63 L158.89 464.46 L159.8 464.34 L160.7 464.19 L161.6 463.95 L162.51 464.07 L163.41 464.01 L164.32 464.21 L165.22 464.08 L166.13 463.71 L167.03 463.9 L167.94 463.67 L168.84 463.83 L169.75 464 L170.65 463.66 L171.56 463.88 L172.46 463.85 L173.37 464.09 L174.27 464.24 L175.18 464.19 L176.08 464.1 L176.99 464.01 L177.89 464.08 L178.8 464.24 L179.7 464.09 L180.6 463.91 L181.51 476.97 L182.41 488.38 L183.32 488.92 L184.22 489.17 L185.13 489.34 L186.03 489.39 L186.94 489.3 L187.84 488.97 L188.75 489.08 L189.65 488.93 L190.56 488.78 L191.46 488.55 L192.37 488.81 L193.27 488.82 L194.18 488.85 L195.08 488.82 L195.99 488.49 L196.89 488.74 L197.8 488.84 L198.7 488.77 L199.6 488.17 L200.51 488.02 L201.41 487.95 L202.32 487.89 L203.22 488.28 L204.13 488.27 L205.03 488.57 L205.94 488.56 L206.84 488.62 L207.75 488.6 L208.65 488.79 L209.56 488.43 L210.46 488.3 L211.37 488 L212.27 487.8 L213.18 488.24 L214.08 488.27 L214.99 488.12 L215.89 488.12 L216.8 488.16 L217.7 488.48" fill="none" stroke="#000" stroke-width="1.0" stroke-linejoin="round"/>
<path d="M65.7 486.76 L66.6 472.64 L67.51 470.96 L68.41 471 L69.32 471.24 L70.22 471.29 L71.13 471.64 L72.03 471.58 L72.94 471.89 L73.84 471.85 L74.75 471.88 L75.65 472.17 L76.56 472.32 L77.46 472.22 L78.37 472.35 L79.27 472.16 L80.18 472.03 L81.08 472.25 L81.99 472.43 L82.89 472.77 L83.8 472.8 L84.7 472.74 L85.6 472.79 L86.51 472.37 L87.41 472.69 L88.32 472.88 L89.22 472.65 L90.13 472.48 L91.03 472.56 L91.94 472.36 L92.84 472.26 L93.75 472.53 L94.65 472.49 L95.56 472.58 L96.46 472.57 L97.37 472.52 L98.27 472.52 L99.18 472.95 L100.08 473.25 L100.99 473.59 L101.89 473.38 L102.8 473.15 L103.7 472.83 L104.6 472.78 L105.51 472.97 L106.41 473.16 L107.32 473.44 L108.22 473.27 L109.13 472.98 L110.03 473.16 L110.94 472.89 L111.84 473.09 L112.75 473 L113.65 473.07 L114.56 473.26 L115.46 473.42 L116.37 473.64 L117.27 473.6 L118.18 473.66 L119.08 473.78 L119.99 473.95 L120.89 473.53 L121.8 473.37 L122.7 473.11 L123.6 473.45 L124.51 473.15 L125.41 473.44 L126.32 473.83 L127.22 473.53 L128.13 473.72 L129.03 473.76 L129.94 473.79 L130.84 474.21 L131.75 474.13 L132.65 473.78 L133.56 473.65 L134.46 473.55 L135.37 473.72 L136.27 473.89 L137.18 473.83 L138.08 473.84 L138.99 473.44 L139.89 473.57 L140.8 473.89 L141.7 474.23 L142.6 474.33 L143.51 474.48 L144.41 474.45 L145.32 474.19 L146.22 473.52 L147.13 473.48 L148.03 473.65 L148.94 474.16 L149.84 474.26 L150.75 474.39 L151.65 474.05 L152.56 474.16 L153.46 473.96 L154.37 473.94 L155.27 473.81 L156.18 473.82 L157.08 473.97 L157.99 473.9 L158.89 474.19 L159.8 473.94 L160.7 474.05 L161.6 474.11 L162.51 474.25 L163.41 474.3 L164.32 474.1 L165.22 474.1 L166.13 473.71 L167.03 473.46 L167.94 473.5 L168.84 473.95 L169.75 473.87 L170.65 473.9 L171.56 473.9 L172.46 473.78 L173.37 473.92 L174.27 473.95 L175.18 474.01 L176.08 474.15 L176.99 474.41 L177.89 474.29 L178.8 474.39 L179.7 474.04 L180.6 473.65 L181.51 481.61 L182.41 488.25 L183.32 488.33 L184.22 488.43 L185.13 488.34 L186.03 488.47 L186.94 488.47 L187.84 488.67 L188.75 488.26 L189.65 488.22 L190.56 488.34 L191.46 488.58 L192.37 488.49 L193.27 488.6 L194.18 488.78 L195.08 488.62 L195.99 488.31 L196.89 488.04 L197.8 487.87 L198.7 487.96 L199.6 488.15 L200.51 488.03 L201.41 488.27 L202.32 488.23 L203.22 487.99 L204.13 488.01 L205.03 487.99 L205.94 487.83 L206.84 488.21 L207.75 488.17 L208.65 488.38 L209.56 488.46 L210.46 488.43 L211.37 488.36 L212.27 487.8 L213.18 487.65 L214.08 487.6 L214.99 487.94 L215.89 488.08 L216.8 487.77 L217.7 487.66" fill="none" stroke="#000" stroke-width="1.0" stroke-linejoin="round"/>
<path d="M65.7 486.75 L66.6 478.93 L67.51 477.79 L68.41 477.62 L69.32 477.59 L70.22 477.6 L71.13 477.66 L72.03 477.52 L72.94 478.01 L73.84 478.05 L74.75 478.37 L75.65 478.44 L76.56 478.43 L77.46 478.94 L78.37 478.8 L79.27 478.78 L80.18 478.76 L81.08 479.18 L81.99 478.83 L82.89 478.74 L83.8 478.77 L84.7 479.04 L85.6 479.3 L86.51 478.97 L87.41 479.13 L88.32 478.79 L89.22 478.72 L90.13 479.26 L91.03 479.36 L91.94 479.53 L92.84 479.77 L93.75 479.53 L94.65 479.75 L95.56 479.75 L96.46 479.55 L97.37 479.49 L98.27 479.22 L99.18 479.44 L100.08 479.51 L100.99 479.74 L101.89 479.9 L102.8 479.6 L103.7 479.28 L104.6 479.28 L105.51 479.39 L106.41 479.77 L107.32 479.57 L108.22 479.77 L109.13 479.79 L110.03 479.76 L110.94 479.83 L111.84 479.6 L112.75 479.86 L113.65 479.5 L114.56 479.53 L115.46 479.71 L116.37 479.58 L117.27 479.72 L118.18 480.01 L119.08 480.05 L119.99 480.12 L120.89 480.29 L121.8 480.26 L122.7 480.09 L123.6 479.71 L124.51 479.75 L125.41 479.95 L126.32 480.16 L127.22 480.2 L128.13 480.14 L129.03 479.9 L129.94 479.87 L130.84 479.91 L131.75 479.63 L132.65 479.89 L133.56 479.88 L134.46 479.91 L135.37 480.12 L136.27 480.31 L137.18 480.51 L138.08 480.74 L138.99 480.59 L139.89 480.39 L140.8 480.61 L141.7 480.74 L142.6 481.01 L143.51 480.67 L144.41 480.46 L145.32 479.96 L146.22 479.65 L147.13 479.58 L148.03 480 L148.94 480.24 L149.84 480.53 L150.75 480.71 L151.65 480.49 L152.56 480.89 L153.46 480.86 L154.37 480.92 L155.27 480.64 L156.18 480.69 L157.08 480.52 L157.99 480.38 L158.89 480.7 L159.8 480.35 L160.7 480.38 L161.6 480.59 L162.51 480.84 L163.41 480.98 L164.32 480.74 L165.22 480.62 L166.13 480.58 L167.03 480.28 L167.94 480.71 L168.84 480.75 L169.75 480.73 L170.65 480.86 L171.56 480.63 L172.46 480.54 L173.37 480.6 L174.27 480.63 L175.18 480.5 L176.08 480.67 L176.99 480.73 L177.89 480.46 L178.8 480.73 L179.7 480.74 L180.6 480.53 L181.51 484.03 L182.41 487.22 L183.32 487.25 L184.22 487.67 L185.13 487.85 L186.03 488.03 L186.94 488.22 L187.84 488.09 L188.75 487.91 L189.65 487.88 L190.56 488.14 L191.46 487.99 L192.37 488.13 L193.27 488.02 L194.18 487.62 L195.08 487.45 L195.99 487.52 L196.89 487.69 L197.8 487.75 L198.7 487.84 L199.6 488 L200.51 487.82 L201.41 487.84 L202.32 487.83 L203.22 487.66 L204.13 487.89 L205.03 487.4 L205.94 487.51 L206.84 487.53 L207.75 487.21 L208.65 487.53 L209.56 487.68 L210.46 487.59 L211.37 487.74 L212.27 487.49 L213.18 487.68 L214.08 487.65 L214.99 487.6 L215.89 487.77 L216.8 487.65 L217.7 487.84" fill="none" stroke="#000" stroke-width="1.0" stroke-linejoin="round"/>
<path d="M65.7 486.57 L66.6 481.22 L67.51 480.78 L68.41 480.67 L69.32 480.83 L70.22 480.87 L71.13 480.89 L72.03 481.09 L72.94 481.06 L73.84 481.31 L74.75 481.17 L75.65 481.22 L76.56 481.31 L77.46 481.09 L78.37 481.29 L79.27 481.25 L80.18 481.53 L81.08 481.73 L81.99 481.66 L82.89 481.94 L83.8 481.91 L84.7 482.26 L85.6 482.74 L86.51 482.46 L87.41 482.48 L88.32 482.26 L89.22 482.13 L90.13 482.25 L91.03 482.29 L91.94 482.11 L92.84 482.06 L93.75 481.93 L94.65 481.75 L95.56 481.92 L96.46 481.98 L97.37 482.04 L98.27 482.25 L99.18 482.47 L100.08 482.49 L100.99 482.31 L101.89 482.45 L102.8 482.66 L103.7 482.6 L104.6 482.79 L105.51 483.24 L106.41 483.28 L107.32 483.06 L108.22 483.26 L109.13 483.46 L110.03 483.21 L110.94 483.17 L111.84 483 L112.75 483.17 L113.65 482.85 L114.56 482.77 L115.46 482.89 L116.37 482.94 L117.27 482.74 L118.18 482.46 L119.08 482.93 L119.99 483.4 L120.89 483.66 L121.8 483.83 L122.7 483.75 L123.6 483.81 L124.51 483.75 L125.41 483.86 L126.32 483.61 L127.22 483.42 L128.13 483.21 L129.03 483.16 L129.94 483.02 L130.84 483.01 L131.75 483.37 L132.65 483.42 L133.56 483.67 L134.46 483.56 L135.37 483.79 L136.27 483.67 L137.18 483.39 L138.08 483.36 L138.99 483.66 L139.89 483.55 L140.8 483.34 L141.7 483.05 L142.6 483.18 L143.51 483.35 L144.41 483.73 L145.32 483.69 L146.22 483.68 L147.13 483.82 L148.03 483.84 L148.94 483.69 L149.84 483.62 L150.75 483.67 L151.65 483.56 L152.56 483.86 L153.46 483.88 L154.37 483.99 L155.27 483.76 L156.18 483.42 L157.08 483.7 L157.99 483.79 L158.89 484.04 L159.8 483.8 L160.7 483.55 L161.6 483.64 L162.51 483.61 L163.41 483.63 L164.32 483.91 L165.22 484.02 L166.13 484.29 L167.03 484.19 L167.94 484.08 L168.84 484.01 L169.75 484.04 L170.65 483.77 L171.56 483.56 L172.46 483.52 L173.37 483.57 L174.27 483.43 L175.18 483.83 L176.08 483.95 L176.99 483.59 L177.89 483.44 L178.8 483.43 L179.7 483.41 L180.6 483.66 L181.51 485.34 L182.41 487.37 L183.32 487.46 L184.22 487.24 L185.13 487.2 L186.03 486.83 L186.94 487.33 L187.84 487.25 L188.75 487.22 L189.65 487.24 L190.56 487.38 L191.46 487.51 L192.37 487.5 L193.27 487.1 L194.18 486.93 L195.08 486.81 L195.99 486.95 L196.89 487.18 L197.8 487.08 L198.7 487.16 L199.6 486.96 L200.51 486.69 L201.41 486.88 L202.32 486.85 L203.22 487.36 L204.13 487.16 L205.03 487.11 L205.94 487.25 L206.84 487.43 L207.75 487.47 L208.65 487.33 L209.56 487.52 L210.46 487.05 L211.37 487.16 L212.27 487.07 L213.18 487.05 L214.08 487.29 L214.99 487.23 L215.89 487.52 L216.8 487.59 L217.7 487.24" fill="none" stroke="#000" stroke-width="1.0" stroke-linejoin="round"/>
<path d="M65.7 486.43 L66.6 483.1 L67.51 482.85 L68.41 483 L69.32 483.08 L70.22 483.2 L71.13 483.08 L72.03 483.13 L72.94 483.38 L73.84 483.61 L74.75 483.76 L75.65 483.85 L76.56 484.22 L77.46 483.85 L78.37 483.62 L79.27 483.63 L80.18 483.57 L81.08 483.92 L81.99 483.81 L82.89 483.74 L83.8 484.05 L84.7 483.8 L85.6 484.14 L86.51 484.21 L87.41 484.42 L88.32 484.74 L89.22 484.73 L90.13 484.61 L91.03 484.56 L91.94 484.55 L92.84 484.88 L93.75 484.97 L94.65 485.1 L95.56 485.04 L96.46 485.1 L97.37 484.96 L98.27 485.1 L99.18 484.61 L100.08 484.36 L100.99 484.38 L101.89 484.64 L102.8 485 L103.7 484.85 L104.6 484.88 L105.51 485.14 L106.41 485.37 L107.32 485.03 L108.22 485.16 L109.13 484.96 L110.03 484.97 L110.94 485.33 L111.84 485.45 L112.75 485.73 L113.65 485.46 L114.56 485.05 L115.46 484.91 L116.37 485.08 L117.27 485.25 L118.18 485.6 L119.08 485.65 L119.99 485.51 L120.89 485.44 L121.8 485.17 L122.7 485.26 L123.6 485.46 L124.51 485.23 L125.41 485.54 L126.32 485.24 L127.22 485.28 L128.13 485.3 L129.03 485.15 L129.94 485.41 L130.84 485.75 L131.75 485.68 L132.65 485.64 L133.56 485.64 L134.46 486.18 L135.37 486.1 L136.27 485.99 L137.18 485.98 L138.08 485.56 L138.99 485.41 L139.89 485.58 L140.8 485.68 L141.7 485.87 L142.6 485.8 L143.51 485.6 L144.41 485.79 L145.32 485.8 L146.22 485.71 L147.13 485.85 L148.03 485.82 L148.94 485.45 L149.84 485.57 L150.75 485.89 L151.65 486.16 L152.56 486 L153.46 485.88 L154.37 485.71 L155.27 485.78 L156.18 485.83 L157.08 485.8 L157.99 485.85 L158.89 486 L159.8 485.84 L160.7 485.97 L161.6 485.79 L162.51 485.78 L163.41 486.06 L164.32 485.88 L165.22 485.84 L166.13 486.08 L167.03 486.04 L167.94 486.27 L168.84 486.07 L169.75 486.1 L170.65 486.11 L171.56 485.65 L172.46 485.85 L173.37 485.83 L174.27 485.67 L175.18 485.77 L176.08 485.67 L176.99 485.57 L177.89 485.58 L178.8 485.66 L179.7 485.64 L180.6 485.82 L181.51 486.44 L182.41 486.9 L183.32 486.89 L184.22 486.6 L185.13 486.93 L186.03 487.08 L186.94 487.06 L187.84 486.91 L188.75 486.77 L189.65 486.8 L190.56 486.84 L191.46 487.04 L192.37 486.71 L193.27 486.71 L194.18 486.88 L195.08 487.14 L195.99 487.13 L196.89 486.89 L197.8 486.5 L198.7 486.31 L199.6 486.29 L200.51 486.68 L201.41 486.26 L202.32 486.44 L203.22 486.63 L204.13 486.54 L205.03 486.89 L205.94 486.71 L206.84 486.46 L207.75 486.63 L208.65 486.42 L209.56 486.26 L210.46 486.37 L211.37 486.28 L212.27 486.39 L213.18 486.52 L214.08 486.94 L214.99 486.69 L215.89 486.55 L216.8 486.42 L217.7 486.42" fill="none" stroke="#000" stroke-width="1.0" stroke-linejoin="round"/>
<line x1="58.4" y1="486.7" x2="217.7" y2="486.7" stroke="#666" stroke-width="0.7"/>
<rect x="181.73" y="485.88" width="35.97" height="2.6" fill="#111"/>
<line x1="58.4" y1="486.7" x2="65.7" y2="486.7" stroke="#111" stroke-width="1.6"/>
<line x1="240.3" y1="415.6" x2="240.3" y2="491.4" stroke="#111" stroke-width="1.35"/>
<path d="M240.3 412.3 L237.7 418.1 L242.9 418.1 Z" fill="#111"/>
<text x="240.8" y="408.8" font-size="7.6" text-anchor="middle" fill="#111" stroke="#111" stroke-width="0.22">1mM</text>
<text x="240.2" y="499.2" font-size="7.6" text-anchor="middle" fill="#111" stroke="#111" stroke-width="0.22">15.63µM</text>
</g>
<g id="panelD" font-family='"Liberation Sans", Arial, Helvetica, sans-serif'>
<text x="278.8" y="197.6" font-size="10.8" text-anchor="start" fill="#000" font-weight="700">D</text>
<text x="383.7" y="196.8" font-size="9.7" text-anchor="middle" fill="#111" stroke="#111" stroke-width="0.22">HK</text>
<line x1="311" y1="210" x2="311" y2="320.4" stroke="#262626" stroke-width="1.4"/>
<line x1="307" y1="212.02" x2="311" y2="212.02" stroke="#262626" stroke-width="1.0"/>
<text x="305.4" y="214.82" font-size="8.3" text-anchor="end" fill="#111" stroke="#111" stroke-width="0.22">140</text>
<line x1="307" y1="225.26" x2="311" y2="225.26" stroke="#262626" stroke-width="1.0"/>
<text x="305.4" y="228.06" font-size="8.3" text-anchor="end" fill="#111" stroke="#111" stroke-width="0.22">120</text>
<line x1="307" y1="238.5" x2="311" y2="238.5" stroke="#262626" stroke-width="1.0"/>
<text x="305.4" y="241.3" font-size="8.3" text-anchor="end" fill="#111" stroke="#111" stroke-width="0.22">100</text>
<line x1="307" y1="251.74" x2="311" y2="251.74" stroke="#262626" stroke-width="1.0"/>
<text x="305.4" y="254.54" font-size="8.3" text-anchor="end" fill="#111" stroke="#111" stroke-width="0.22">80</text>
<line x1="307" y1="264.98" x2="311" y2="264.98" stroke="#262626" stroke-width="1.0"/>
<text x="305.4" y="267.78" font-size="8.3" text-anchor="end" fill="#111" stroke="#111" stroke-width="0.22">60</text>
<line x1="307" y1="278.22" x2="311" y2="278.22" stroke="#262626" stroke-width="1.0"/>
<text x="305.4" y="281.02" font-size="8.3" text-anchor="end" fill="#111" stroke="#111" stroke-width="0.22">40</text>
<line x1="307" y1="291.46" x2="311" y2="291.46" stroke="#262626" stroke-width="1.0"/>
<text x="305.4" y="294.26" font-size="8.3" text-anchor="end" fill="#111" stroke="#111" stroke-width="0.22">20</text>
<line x1="307" y1="304.7" x2="311" y2="304.7" stroke="#262626" stroke-width="1.0"/>
<text x="305.4" y="307.5" font-size="8.3" text-anchor="end" fill="#111" stroke="#111" stroke-width="0.22">0</text>
<line x1="307" y1="317.94" x2="311" y2="317.94" stroke="#262626" stroke-width="1.0"/>
<text x="305.2" y="320" font-size="8.3" text-anchor="end" fill="#111" stroke="#111" stroke-width="0.22">−20</text>
<line x1="289.6" y1="310.7" x2="477.2" y2="310.7" stroke="#262626" stroke-width="1.4"/>
<line x1="292.3" y1="310.7" x2="292.3" y2="314.1" stroke="#262626" stroke-width="1.0"/>
<line x1="329.4" y1="310.7" x2="329.4" y2="314.1" stroke="#262626" stroke-width="1.0"/>
<text x="329.4" y="324.6" font-size="8.3" text-anchor="middle" fill="#111" stroke="#111" stroke-width="0.22">25</text>
<line x1="365.55" y1="310.7" x2="365.55" y2="314.1" stroke="#262626" stroke-width="1.0"/>
<text x="362.65" y="324.6" font-size="8.3" text-anchor="middle" fill="#111" stroke="#111" stroke-width="0.22">125</text>
<line x1="401.7" y1="310.7" x2="401.7" y2="314.1" stroke="#262626" stroke-width="1.0"/>
<text x="397.7" y="324.6" font-size="8.3" text-anchor="middle" fill="#111" stroke="#111" stroke-width="0.22">225</text>
<line x1="437.85" y1="310.7" x2="437.85" y2="314.1" stroke="#262626" stroke-width="1.0"/>
<text x="435.15" y="324.6" font-size="8.3" text-anchor="middle" fill="#111" stroke="#111" stroke-width="0.22">325</text>
<line x1="474" y1="310.7" x2="474" y2="314.1" stroke="#262626" stroke-width="1.0"/>
<text x="474" y="324.6" font-size="8.3" text-anchor="middle" fill="#111" stroke="#111" stroke-width="0.22">425</text>
<text x="290.4" y="326.4" font-size="8.3" text-anchor="middle" fill="#111" stroke="#111" stroke-width="0.22">−75</text>
<text x="394.2" y="338.1" font-size="10.6" text-anchor="middle" fill="#111" textLength="32.4" lengthAdjust="spacingAndGlyphs" stroke="#111" stroke-width="0.22">Time (s)</text>
<text x="286" y="266" font-size="10.4" text-anchor="middle" fill="#111" textLength="11.2" lengthAdjust="spacingAndGlyphs" transform="rotate(-90 286 266)" stroke="#111" stroke-width="0.22">RU</text>
<path d="M319.5 304.07 L320.3 291.02 L321.11 278.08 L321.91 263.85 L322.72 252.6 L323.52 243.94 L324.32 236.81 L325.13 232.14 L325.93 229.04 L326.73 226.42 L327.54 224.32 L328.34 222.85 L329.15 221.87 L329.95 220.93 L330.75 220.36 L331.56 219.47 L332.36 218.85 L333.17 218.22 L333.97 217.7 L334.77 217.57 L335.58 217.56 L336.38 217.3 L337.19 216.98 L337.99 216.74 L338.79 216.57 L339.6 216.21 L340.4 216.18 L341.2 216.08 L342.01 216.05 L342.81 215.96 L343.62 215.84 L344.42 215.73 L345.22 215.65 L346.03 215.53 L346.83 215.62 L347.64 215.44 L348.44 215.44 L349.24 215.35 L350.05 215.28 L350.85 215.27 L351.65 215.38 L352.46 215.4 L353.26 215.58 L354.07 215.48 L354.87 215.56 L355.67 215.35 L356.48 215.39 L357.28 215.38 L358.09 215.35 L358.89 215.27 L359.69 215.25 L360.5 215.16 L361.3 215.08 L362.1 215.12 L362.91 214.93 L363.71 215.04 L364.52 214.95 L365.32 214.97 L366.12 214.95 L366.93 214.99 L367.73 215 L368.54 214.88 L369.34 214.87 L370.14 214.84 L370.95 214.82 L371.75 214.87 L372.56 214.88 L373.36 214.96 L374.16 214.92 L374.97 215.15 L375.77 215.23 L376.57 215.12 L377.38 215.07 L378.18 214.94 L378.99 214.86 L379.79 214.95 L380.59 214.9 L381.4 214.89 L382.2 215.02 L383.01 215.06 L383.81 215.09 L384.61 214.93 L385.42 215.02 L386.22 215.08 L387.02 215.21 L387.83 215.08 L388.63 215 L389.44 215.01 L390.24 215.12 L391.04 215.33 L391.85 215.21 L392.65 215.11 L393.46 215.09 L394.26 214.83 L395.06 214.97 L395.87 215.03 L396.67 215.25 L397.48 215.32 L398.28 215.38 L399.08 215.45 L399.89 215.33 L400.69 215.24 L401.49 215.27 L402.3 215.19 L403.1 215.42 L403.91 215.47 L404.71 215.7 L405.51 215.58 L406.32 215.53 L407.12 215.52 L407.93 215.68 L408.73 216.08 L409.53 216.46 L410.34 216.7 L411.14 217.03 L411.94 217.35 L412.75 217.88 L413.55 218.38 L414.36 218.49 L415.16 218.81 L415.96 219.05 L416.77 219.22 L417.57 219.62 L418.38 220.04 L419.18 220.53 L419.98 220.81 L420.79 221.16 L421.59 221.53 L422.4 221.78 L423.2 222.07 L424 222.33 L424.81 222.59 L425.61 222.8 L426.41 223.18 L427.22 223.4 L428.02 223.74 L428.83 224.13 L429.63 224.48 L430.43 224.55 L431.24 224.96 L432.04 225.15 L432.85 225.49 L433.65 225.9 L434.45 226.09 L435.26 226.5 L436.06 226.78 L436.86 227.09 L437.67 227.15 L438.47 227.34 L439.28 227.74 L440.08 228.19 L440.88 228.55 L441.69 228.84 L442.49 229.11 L443.3 229.33 L444.1 229.6 L444.9 229.77 L445.71 230.05 L446.51 230.4 L447.31 230.73 L448.12 231 L448.92 231.14 L449.73 231.42 L450.53 231.8 L451.33 232.12 L452.14 232.2 L452.94 232.47 L453.75 232.71 L454.55 232.9 L455.35 233.12 L456.16 233.65 L456.96 233.99 L457.77 234.22 L458.57 234.62 L459.37 234.89 L460.18 235.01 L460.98 235.5 L461.78 235.66 L462.59 236.08 L463.39 236.37 L464.2 236.5 L465 236.51" fill="none" stroke="#000" stroke-width="1.12" stroke-linejoin="round"/>
<path d="M319.5 304.43 L320.3 294.38 L321.11 284.66 L321.91 275.24 L322.72 265.79 L323.52 257.15 L324.32 249.92 L325.13 243.1 L325.93 237.71 L326.73 234.39 L327.54 231.88 L328.34 229.73 L329.15 228.19 L329.95 227.08 L330.75 226.16 L331.56 225.16 L332.36 224.38 L333.17 223.92 L333.97 223.28 L334.77 222.89 L335.58 222.59 L336.38 222.14 L337.19 221.56 L337.99 221.22 L338.79 221.03 L339.6 220.79 L340.4 220.59 L341.2 220.48 L342.01 220.3 L342.81 220.13 L343.62 220.16 L344.42 219.9 L345.22 219.74 L346.03 219.63 L346.83 219.72 L347.64 219.73 L348.44 219.91 L349.24 219.82 L350.05 219.8 L350.85 219.58 L351.65 219.42 L352.46 219.26 L353.26 219.19 L354.07 219.31 L354.87 219.35 L355.67 219.09 L356.48 219.09 L357.28 219.09 L358.09 219.11 L358.89 218.97 L359.69 218.94 L360.5 218.79 L361.3 218.87 L362.1 218.93 L362.91 218.97 L363.71 218.95 L364.52 218.92 L365.32 218.99 L366.12 219.02 L366.93 218.98 L367.73 218.97 L368.54 219.04 L369.34 219.05 L370.14 218.88 L370.95 218.78 L371.75 218.87 L372.56 218.97 L373.36 219.13 L374.16 219.13 L374.97 219.06 L375.77 218.93 L376.57 218.72 L377.38 218.65 L378.18 218.65 L378.99 218.7 L379.79 218.79 L380.59 218.71 L381.4 218.82 L382.2 218.81 L383.01 219.07 L383.81 219.06 L384.61 219.1 L385.42 219.22 L386.22 219.05 L387.02 219.08 L387.83 219.15 L388.63 219 L389.44 219.02 L390.24 218.92 L391.04 219.06 L391.85 219.05 L392.65 218.95 L393.46 219.04 L394.26 219.02 L395.06 219.21 L395.87 219.25 L396.67 219.32 L397.48 219.29 L398.28 219.32 L399.08 219.34 L399.89 219.18 L400.69 219.22 L401.49 219.22 L402.3 219.04 L403.1 219.03 L403.91 218.97 L404.71 219.05 L405.51 219.06 L406.32 219.03 L407.12 219.16 L407.93 219.58 L408.73 219.96 L409.53 220.14 L410.34 220.17 L411.14 220.37 L411.94 220.48 L412.75 220.84 L413.55 221.1 L414.36 221.26 L415.16 221.49 L415.96 221.81 L416.77 222.01 L417.57 222.19 L418.38 222.57 L419.18 222.91 L419.98 223.24 L420.79 223.62 L421.59 224.02 L422.4 224.47 L423.2 224.74 L424 224.9 L424.81 225.35 L425.61 225.62 L426.41 225.92 L427.22 226.26 L428.02 226.6 L428.83 227.04 L429.63 227.28 L430.43 227.68 L431.24 228.05 L432.04 228.35 L432.85 228.71 L433.65 229.06 L434.45 229.31 L435.26 229.57 L436.06 229.83 L436.86 229.99 L437.67 230.39 L438.47 230.76 L439.28 230.98 L440.08 231.34 L440.88 231.73 L441.69 231.95 L442.49 232.29 L443.3 232.54 L444.1 232.67 L444.9 232.9 L445.71 233.2 L446.51 233.73 L447.31 233.94 L448.12 234.2 L448.92 234.46 L449.73 234.69 L450.53 234.91 L451.33 235.08 L452.14 235.4 L452.94 235.75 L453.75 236.14 L454.55 236.23 L455.35 236.49 L456.16 236.67 L456.96 237.1 L457.77 237.23 L458.57 237.48 L459.37 237.81 L460.18 238 L460.98 238.45 L461.78 238.79 L462.59 239.19 L463.39 239.4 L464.2 239.7 L465 239.85" fill="none" stroke="#000" stroke-width="1.12" stroke-linejoin="round"/>
<path d="M319.5 304.28 L320.3 296.03 L321.11 288.08 L321.91 280.63 L322.72 273.37 L323.52 266.37 L324.32 259.81 L325.13 254.2 L325.93 249.24 L326.73 244.61 L327.54 240.57 L328.34 237.35 L329.15 235.14 L329.95 233.57 L330.75 231.94 L331.56 231.02 L332.36 230.15 L333.17 229.46 L333.97 228.82 L334.77 228.23 L335.58 228.05 L336.38 227.59 L337.19 227.29 L337.99 226.91 L338.79 226.72 L339.6 226.55 L340.4 226.32 L341.2 226.11 L342.01 225.83 L342.81 225.74 L343.62 225.66 L344.42 225.56 L345.22 225.49 L346.03 225.49 L346.83 225.33 L347.64 225.19 L348.44 224.99 L349.24 224.86 L350.05 224.76 L350.85 224.86 L351.65 224.66 L352.46 224.64 L353.26 224.61 L354.07 224.69 L354.87 224.44 L355.67 224.55 L356.48 224.35 L357.28 224.24 L358.09 224.21 L358.89 224.25 L359.69 224.06 L360.5 224.02 L361.3 224.23 L362.1 224.45 L362.91 224.39 L363.71 224.31 L364.52 224.19 L365.32 224.21 L366.12 224.05 L366.93 224.08 L367.73 223.86 L368.54 223.83 L369.34 223.99 L370.14 224.04 L370.95 224.02 L371.75 224.25 L372.56 224.15 L373.36 223.99 L374.16 223.8 L374.97 223.66 L375.77 223.64 L376.57 223.63 L377.38 223.72 L378.18 223.82 L378.99 223.82 L379.79 223.87 L380.59 223.74 L381.4 223.78 L382.2 223.78 L383.01 223.75 L383.81 223.86 L384.61 223.85 L385.42 223.79 L386.22 223.74 L387.02 223.94 L387.83 223.86 L388.63 223.8 L389.44 223.7 L390.24 223.61 L391.04 223.63 L391.85 223.56 L392.65 223.63 L393.46 223.83 L394.26 223.9 L395.06 223.93 L395.87 223.86 L396.67 223.53 L397.48 223.54 L398.28 223.6 L399.08 223.67 L399.89 223.72 L400.69 223.71 L401.49 223.52 L402.3 223.47 L403.1 223.54 L403.91 223.53 L404.71 223.66 L405.51 223.58 L406.32 223.54 L407.12 223.56 L407.93 223.69 L408.73 223.91 L409.53 224.15 L410.34 224.42 L411.14 224.43 L411.94 224.73 L412.75 224.93 L413.55 225.07 L414.36 225.39 L415.16 225.52 L415.96 225.74 L416.77 225.95 L417.57 225.99 L418.38 226.21 L419.18 226.5 L419.98 226.68 L420.79 227 L421.59 227.33 L422.4 227.71 L423.2 227.87 L424 228.17 L424.81 228.28 L425.61 228.71 L426.41 229.12 L427.22 229.38 L428.02 229.71 L428.83 229.83 L429.63 230.04 L430.43 230.27 L431.24 230.45 L432.04 230.8 L432.85 231.18 L433.65 231.62 L434.45 231.82 L435.26 232.01 L436.06 232.42 L436.86 232.55 L437.67 232.8 L438.47 232.97 L439.28 233.31 L440.08 233.61 L440.88 233.88 L441.69 234.37 L442.49 234.6 L443.3 234.92 L444.1 235.09 L444.9 235.31 L445.71 235.7 L446.51 235.94 L447.31 236.1 L448.12 236.23 L448.92 236.43 L449.73 236.8 L450.53 237.4 L451.33 237.8 L452.14 238.15 L452.94 238.51 L453.75 238.69 L454.55 238.83 L455.35 239.12 L456.16 239.39 L456.96 239.74 L457.77 239.99 L458.57 240.08 L459.37 240.31 L460.18 240.64 L460.98 240.99 L461.78 241.34 L462.59 241.62 L463.39 241.81 L464.2 242.1 L465 242.54" fill="none" stroke="#000" stroke-width="1.12" stroke-linejoin="round"/>
<path d="M319.5 304.08 L320.3 298.57 L321.11 293.12 L321.91 287.62 L322.72 281.96 L323.52 276.1 L324.32 269.69 L325.13 263.34 L325.93 258.05 L326.73 253.83 L327.54 249.98 L328.34 246.49 L329.15 243.42 L329.95 241.26 L330.75 239.43 L331.56 237.75 L332.36 236.39 L333.17 235.27 L333.97 234.27 L334.77 233.55 L335.58 232.92 L336.38 232.33 L337.19 232.08 L337.99 231.79 L338.79 231.45 L339.6 230.98 L340.4 230.42 L341.2 230.25 L342.01 230.1 L342.81 229.98 L343.62 229.82 L344.42 229.56 L345.22 229.52 L346.03 229.35 L346.83 229.33 L347.64 229.16 L348.44 229.25 L349.24 229.26 L350.05 229.07 L350.85 228.83 L351.65 228.84 L352.46 228.79 L353.26 228.63 L354.07 228.73 L354.87 228.8 L355.67 228.8 L356.48 228.67 L357.28 228.55 L358.09 228.61 L358.89 228.61 L359.69 228.43 L360.5 228.33 L361.3 228.2 L362.1 228.35 L362.91 228.31 L363.71 228.38 L364.52 228.17 L365.32 228.14 L366.12 228.07 L366.93 228.2 L367.73 228.24 L368.54 228.03 L369.34 228 L370.14 228.01 L370.95 228.19 L371.75 228.15 L372.56 228.21 L373.36 228.05 L374.16 227.82 L374.97 227.76 L375.77 227.58 L376.57 227.73 L377.38 227.66 L378.18 227.75 L378.99 227.61 L379.79 227.65 L380.59 227.75 L381.4 227.65 L382.2 227.81 L383.01 227.77 L383.81 227.8 L384.61 227.79 L385.42 227.69 L386.22 227.78 L387.02 227.68 L387.83 227.6 L388.63 227.79 L389.44 227.75 L390.24 227.83 L391.04 227.57 L391.85 227.42 L392.65 227.48 L393.46 227.48 L394.26 227.56 L395.06 227.56 L395.87 227.6 L396.67 227.65 L397.48 227.56 L398.28 227.6 L399.08 227.59 L399.89 227.46 L400.69 227.43 L401.49 227.43 L402.3 227.32 L403.1 227.17 L403.91 227.19 L404.71 227.26 L405.51 227.4 L406.32 227.46 L407.12 227.51 L407.93 227.58 L408.73 227.57 L409.53 227.65 L410.34 227.87 L411.14 227.95 L411.94 228.25 L412.75 228.47 L413.55 228.61 L414.36 228.93 L415.16 229.24 L415.96 229.35 L416.77 229.64 L417.57 229.87 L418.38 230.24 L419.18 230.24 L419.98 230.52 L420.79 230.69 L421.59 230.85 L422.4 231.19 L423.2 231.44 L424 231.82 L424.81 232.35 L425.61 232.54 L426.41 232.69 L427.22 232.9 L428.02 233.02 L428.83 233.4 L429.63 233.68 L430.43 233.92 L431.24 234.32 L432.04 234.5 L432.85 235.02 L433.65 235.33 L434.45 235.61 L435.26 235.8 L436.06 235.78 L436.86 235.81 L437.67 236.17 L438.47 236.43 L439.28 236.67 L440.08 236.94 L440.88 237.29 L441.69 237.65 L442.49 237.83 L443.3 238.21 L444.1 238.52 L444.9 238.83 L445.71 239.09 L446.51 239.39 L447.31 239.5 L448.12 239.79 L448.92 240.13 L449.73 240.32 L450.53 240.69 L451.33 241.01 L452.14 241.19 L452.94 241.43 L453.75 241.79 L454.55 241.94 L455.35 242.26 L456.16 242.46 L456.96 242.68 L457.77 242.98 L458.57 243.36 L459.37 243.63 L460.18 243.91 L460.98 244.21 L461.78 244.42 L462.59 244.68 L463.39 244.84 L464.2 245.2 L465 245.53" fill="none" stroke="#000" stroke-width="1.12" stroke-linejoin="round"/>
<path d="M319.5 304.15 L320.3 301.15 L321.11 297.85 L321.91 294.7 L322.72 291.55 L323.52 288.65 L324.32 285.6 L325.13 282.92 L325.93 280.11 L326.73 277.54 L327.54 274.9 L328.34 272.43 L329.15 269.9 L329.95 267.56 L330.75 265.33 L331.56 262.95 L332.36 260.88 L333.17 258.94 L333.97 256.97 L334.77 255.18 L335.58 253.39 L336.38 251.86 L337.19 250.56 L337.99 249.4 L338.79 248.11 L339.6 247.07 L340.4 246.11 L341.2 245.04 L342.01 244 L342.81 243.14 L343.62 242.48 L344.42 241.94 L345.22 241.47 L346.03 240.92 L346.83 240.46 L347.64 240.03 L348.44 239.43 L349.24 239.04 L350.05 238.71 L350.85 238.6 L351.65 238.23 L352.46 238.08 L353.26 237.84 L354.07 237.52 L354.87 237.3 L355.67 237.05 L356.48 236.79 L357.28 236.45 L358.09 236.4 L358.89 236.26 L359.69 236.3 L360.5 236.26 L361.3 236.04 L362.1 235.98 L362.91 235.9 L363.71 235.71 L364.52 235.57 L365.32 235.29 L366.12 235.33 L366.93 235.4 L367.73 235.29 L368.54 235.33 L369.34 235.28 L370.14 235.05 L370.95 235.06 L371.75 234.87 L372.56 234.8 L373.36 234.7 L374.16 234.57 L374.97 234.53 L375.77 234.5 L376.57 234.41 L377.38 234.49 L378.18 234.42 L378.99 234.39 L379.79 234.3 L380.59 234.27 L381.4 234.31 L382.2 234.26 L383.01 234.37 L383.81 234.38 L384.61 234.37 L385.42 234.25 L386.22 234.04 L387.02 234.21 L387.83 234.19 L388.63 234.16 L389.44 234.22 L390.24 234.27 L391.04 234.17 L391.85 234.13 L392.65 234.16 L393.46 234.22 L394.26 234.36 L395.06 234.28 L395.87 234.21 L396.67 234.13 L397.48 234.25 L398.28 234.32 L399.08 234.3 L399.89 234.29 L400.69 234.4 L401.49 234.44 L402.3 234.46 L403.1 234.51 L403.91 234.44 L404.71 234.55 L405.51 234.61 L406.32 234.55 L407.12 234.74 L407.93 234.89 L408.73 235.03 L409.53 235.47 L410.34 235.63 L411.14 235.82 L411.94 235.86 L412.75 236 L413.55 236.27 L414.36 236.6 L415.16 236.87 L415.96 237.04 L416.77 237.21 L417.57 237.44 L418.38 237.57 L419.18 237.86 L419.98 238.05 L420.79 238.21 L421.59 238.51 L422.4 238.66 L423.2 238.89 L424 239.08 L424.81 239.27 L425.61 239.57 L426.41 240.03 L427.22 240.39 L428.02 240.58 L428.83 240.75 L429.63 240.84 L430.43 241.08 L431.24 241.34 L432.04 241.66 L432.85 241.93 L433.65 242.26 L434.45 242.39 L435.26 242.42 L436.06 242.53 L436.86 242.76 L437.67 243.11 L438.47 243.44 L439.28 243.73 L440.08 244.04 L440.88 244.24 L441.69 244.42 L442.49 244.54 L443.3 244.62 L444.1 244.87 L444.9 245.09 L445.71 245.21 L446.51 245.21 L447.31 245.45 L448.12 245.54 L448.92 245.98 L449.73 246.12 L450.53 246.31 L451.33 246.7 L452.14 246.75 L452.94 247 L453.75 247.07 L454.55 247.22 L455.35 247.58 L456.16 247.63 L456.96 247.96 L457.77 247.99 L458.57 248.09 L459.37 248.24 L460.18 248.56 L460.98 248.76 L461.78 248.74 L462.59 249.04 L463.39 249.09 L464.2 249.24 L465 249.48" fill="none" stroke="#000" stroke-width="1.55" stroke-linejoin="round"/>
<path d="M319.5 304.17 L320.3 302.16 L321.11 300.21 L321.91 298.17 L322.72 296.17 L323.52 294.17 L324.32 292.46 L325.13 291.01 L325.93 289.47 L326.73 288.1 L327.54 286.93 L328.34 285.61 L329.15 284.5 L329.95 283.39 L330.75 282.32 L331.56 281.01 L332.36 279.84 L333.17 278.53 L333.97 277.28 L334.77 275.89 L335.58 274.61 L336.38 273.18 L337.19 271.8 L337.99 270.6 L338.79 269.48 L339.6 268.32 L340.4 267.06 L341.2 266.2 L342.01 265.26 L342.81 264.37 L343.62 263.44 L344.42 262.8 L345.22 262.02 L346.03 261.2 L346.83 260.27 L347.64 259.44 L348.44 258.82 L349.24 258.12 L350.05 257.5 L350.85 256.92 L351.65 256.45 L352.46 255.99 L353.26 255.48 L354.07 254.99 L354.87 254.61 L355.67 254.13 L356.48 253.85 L357.28 253.52 L358.09 253.11 L358.89 253.01 L359.69 252.53 L360.5 252.27 L361.3 251.92 L362.1 251.58 L362.91 251.13 L363.71 251.11 L364.52 251.01 L365.32 250.85 L366.12 250.54 L366.93 250.44 L367.73 250.29 L368.54 250 L369.34 249.71 L370.14 249.32 L370.95 249.22 L371.75 249.05 L372.56 248.82 L373.36 248.62 L374.16 248.56 L374.97 248.46 L375.77 248.36 L376.57 248.21 L377.38 248.03 L378.18 247.84 L378.99 247.71 L379.79 247.75 L380.59 247.67 L381.4 247.4 L382.2 247.13 L383.01 247.16 L383.81 247.22 L384.61 247.05 L385.42 246.91 L386.22 246.76 L387.02 246.91 L387.83 246.75 L388.63 246.68 L389.44 246.48 L390.24 246.35 L391.04 246.26 L391.85 246.46 L392.65 246.49 L393.46 246.34 L394.26 246.19 L395.06 245.96 L395.87 245.88 L396.67 245.82 L397.48 245.86 L398.28 245.71 L399.08 245.71 L399.89 245.57 L400.69 245.69 L401.49 245.7 L402.3 245.71 L403.1 245.7 L403.91 245.61 L404.71 245.58 L405.51 245.36 L406.32 245.46 L407.12 245.44 L407.93 245.54 L408.73 245.61 L409.53 245.71 L410.34 245.61 L411.14 245.74 L411.94 245.94 L412.75 246.17 L413.55 246.3 L414.36 246.44 L415.16 246.51 L415.96 246.82 L416.77 246.96 L417.57 247.08 L418.38 247.29 L419.18 247.46 L419.98 247.63 L420.79 247.89 L421.59 248.16 L422.4 248.27 L423.2 248.61 L424 248.81 L424.81 249 L425.61 249.24 L426.41 249.53 L427.22 249.72 L428.02 250.03 L428.83 250.06 L429.63 250.32 L430.43 250.49 L431.24 250.61 L432.04 251.04 L432.85 251.21 L433.65 251.59 L434.45 251.84 L435.26 251.97 L436.06 252.37 L436.86 252.54 L437.67 252.58 L438.47 252.46 L439.28 252.57 L440.08 252.77 L440.88 253.13 L441.69 253.28 L442.49 253.49 L443.3 253.6 L444.1 253.82 L444.9 254.01 L445.71 254.19 L446.51 254.47 L447.31 254.69 L448.12 255.01 L448.92 255.06 L449.73 255.3 L450.53 255.56 L451.33 255.77 L452.14 256.1 L452.94 256.25 L453.75 256.25 L454.55 256.5 L455.35 256.79 L456.16 256.91 L456.96 256.94 L457.77 257.07 L458.57 257.09 L459.37 257.5 L460.18 257.76 L460.98 258.01 L461.78 258.2 L462.59 258.49 L463.39 258.77 L464.2 258.95 L465 259.1" fill="none" stroke="#000" stroke-width="1.12" stroke-linejoin="round"/>
<path d="M319.5 304.23 L320.3 302.23 L321.11 300.19 L321.91 298.47 L322.72 296.73 L323.52 295.2 L324.32 293.68 L325.13 292.26 L325.93 291.18 L326.73 289.79 L327.54 288.71 L328.34 287.67 L329.15 286.63 L329.95 285.85 L330.75 284.86 L331.56 283.69 L332.36 282.62 L333.17 281.64 L333.97 280.42 L334.77 279.24 L335.58 278.08 L336.38 276.86 L337.19 275.69 L337.99 274.36 L338.79 273.04 L339.6 271.67 L340.4 270.51 L341.2 269.44 L342.01 268.26 L342.81 267.4 L343.62 266.49 L344.42 265.63 L345.22 264.94 L346.03 264.27 L346.83 263.4 L347.64 262.64 L348.44 261.93 L349.24 261.15 L350.05 260.43 L350.85 259.77 L351.65 259.11 L352.46 258.48 L353.26 257.78 L354.07 257.21 L354.87 256.63 L355.67 256.41 L356.48 256.14 L357.28 255.68 L358.09 255.36 L358.89 254.98 L359.69 254.66 L360.5 254.32 L361.3 253.98 L362.1 253.56 L362.91 253.21 L363.71 252.87 L364.52 252.58 L365.32 252.25 L366.12 251.81 L366.93 251.74 L367.73 251.42 L368.54 251.39 L369.34 251.24 L370.14 251.13 L370.95 250.98 L371.75 250.78 L372.56 250.42 L373.36 250.24 L374.16 250.05 L374.97 249.71 L375.77 249.61 L376.57 249.44 L377.38 249.4 L378.18 249.13 L378.99 248.91 L379.79 248.74 L380.59 248.59 L381.4 248.45 L382.2 248.34 L383.01 248.18 L383.81 248.05 L384.61 247.97 L385.42 247.77 L386.22 247.69 L387.02 247.62 L387.83 247.5 L388.63 247.22 L389.44 247.18 L390.24 247.22 L391.04 247.07 L391.85 246.99 L392.65 247.04 L393.46 246.95 L394.26 246.84 L395.06 246.81 L395.87 246.68 L396.67 246.59 L397.48 246.6 L398.28 246.58 L399.08 246.58 L399.89 246.43 L400.69 246.2 L401.49 246.26 L402.3 246.32 L403.1 246.34 L403.91 246.39 L404.71 246.21 L405.51 246.18 L406.32 246.29 L407.12 246.28 L407.93 246.11 L408.73 246.16 L409.53 246.34 L410.34 246.42 L411.14 246.41 L411.94 246.39 L412.75 246.41 L413.55 246.41 L414.36 246.44 L415.16 246.64 L415.96 246.79 L416.77 246.97 L417.57 247.02 L418.38 247.4 L419.18 247.42 L419.98 247.65 L420.79 247.87 L421.59 248.24 L422.4 248.41 L423.2 248.66 L424 248.82 L424.81 249.03 L425.61 249.17 L426.41 249.49 L427.22 249.73 L428.02 250.09 L428.83 250.09 L429.63 250.51 L430.43 250.78 L431.24 251.1 L432.04 251.37 L432.85 251.52 L433.65 251.82 L434.45 251.98 L435.26 252 L436.06 252.3 L436.86 252.47 L437.67 252.8 L438.47 252.95 L439.28 253.06 L440.08 253.28 L440.88 253.46 L441.69 253.63 L442.49 253.87 L443.3 253.96 L444.1 254.26 L444.9 254.37 L445.71 254.39 L446.51 254.52 L447.31 254.8 L448.12 255.07 L448.92 255.42 L449.73 255.56 L450.53 255.89 L451.33 256.08 L452.14 256.28 L452.94 256.47 L453.75 256.56 L454.55 256.8 L455.35 256.98 L456.16 257.12 L456.96 257.23 L457.77 257.45 L458.57 257.57 L459.37 257.84 L460.18 258.15 L460.98 258.41 L461.78 258.67 L462.59 258.74 L463.39 258.93 L464.2 258.94 L465 259.14" fill="none" stroke="#000" stroke-width="1.12" stroke-linejoin="round"/>
<path d="M319.5 304.28 L320.3 303.65 L321.11 303.07 L321.91 302.31 L322.72 301.69 L323.52 301.11 L324.32 300.18 L325.13 299.58 L325.93 298.93 L326.73 298.34 L327.54 297.66 L328.34 297.14 L329.15 296.62 L329.95 296.13 L330.75 295.52 L331.56 295.06 L332.36 294.69 L333.17 294.07 L333.97 293.43 L334.77 292.58 L335.58 292 L336.38 291.67 L337.19 291.15 L337.99 290.59 L338.79 289.97 L339.6 289.36 L340.4 288.76 L341.2 288.46 L342.01 287.91 L342.81 287.4 L343.62 286.88 L344.42 286.09 L345.22 285.64 L346.03 285.03 L346.83 284.58 L347.64 284.14 L348.44 283.58 L349.24 283.04 L350.05 282.61 L350.85 282.16 L351.65 281.77 L352.46 281.37 L353.26 280.85 L354.07 280.5 L354.87 279.91 L355.67 279.64 L356.48 279.27 L357.28 278.92 L358.09 278.48 L358.89 278.02 L359.69 277.47 L360.5 277.25 L361.3 276.65 L362.1 276.33 L362.91 275.85 L363.71 275.44 L364.52 275.2 L365.32 274.8 L366.12 274.6 L366.93 274.13 L367.73 274.13 L368.54 273.94 L369.34 273.54 L370.14 273.2 L370.95 272.8 L371.75 272.24 L372.56 271.89 L373.36 271.59 L374.16 271.31 L374.97 271.07 L375.77 270.76 L376.57 270.55 L377.38 270.51 L378.18 270.44 L378.99 270.2 L379.79 269.83 L380.59 269.58 L381.4 269.38 L382.2 269.13 L383.01 268.87 L383.81 268.72 L384.61 268.62 L385.42 268.6 L386.22 268.46 L387.02 268.16 L387.83 267.93 L388.63 267.82 L389.44 267.47 L390.24 267.23 L391.04 267.21 L391.85 267.15 L392.65 267.02 L393.46 266.82 L394.26 266.65 L395.06 266.34 L395.87 266.15 L396.67 265.9 L397.48 265.83 L398.28 265.69 L399.08 265.7 L399.89 265.53 L400.69 265.51 L401.49 265.48 L402.3 265.3 L403.1 265.22 L403.91 265.27 L404.71 265.11 L405.51 265.17 L406.32 265.13 L407.12 265.18 L407.93 265.19 L408.73 265.13 L409.53 265.14 L410.34 265.07 L411.14 265.13 L411.94 265.17 L412.75 265.13 L413.55 265.09 L414.36 265.1 L415.16 265.16 L415.96 265.24 L416.77 265.26 L417.57 265.46 L418.38 265.51 L419.18 265.57 L419.98 265.81 L420.79 265.89 L421.59 265.92 L422.4 265.8 L423.2 265.87 L424 266 L424.81 266.17 L425.61 266.08 L426.41 266.08 L427.22 266.12 L428.02 266.38 L428.83 266.64 L429.63 266.73 L430.43 266.76 L431.24 267.02 L432.04 267.09 L432.85 267.12 L433.65 267.31 L434.45 267.31 L435.26 267.24 L436.06 267.46 L436.86 267.57 L437.67 267.65 L438.47 267.78 L439.28 268.02 L440.08 268.19 L440.88 268.2 L441.69 268.27 L442.49 268.28 L443.3 268.45 L444.1 268.58 L444.9 269.02 L445.71 269.04 L446.51 269.18 L447.31 269.07 L448.12 269.2 L448.92 269.4 L449.73 269.47 L450.53 269.63 L451.33 269.75 L452.14 269.89 L452.94 269.89 L453.75 269.84 L454.55 269.88 L455.35 270.22 L456.16 270.4 L456.96 270.51 L457.77 270.55 L458.57 270.69 L459.37 270.81 L460.18 271 L460.98 271.06 L461.78 271.22 L462.59 271.31 L463.39 271.48 L464.2 271.41 L465 271.82" fill="none" stroke="#000" stroke-width="1.12" stroke-linejoin="round"/>
<path d="M319.5 304.25 L320.3 303.97 L321.11 303.81 L321.91 303.56 L322.72 303.58 L323.52 303.36 L324.32 303.13 L325.13 303.03 L325.93 302.74 L326.73 302.71 L327.54 302.32 L328.34 302.28 L329.15 302.15 L329.95 302.14 L330.75 302.07 L331.56 301.94 L332.36 301.58 L333.17 301.15 L333.97 300.97 L334.77 300.73 L335.58 300.71 L336.38 300.59 L337.19 300.09 L337.99 300.01 L338.79 299.84 L339.6 299.58 L340.4 299.35 L341.2 299.1 L342.01 298.94 L342.81 298.62 L343.62 298.4 L344.42 298.12 L345.22 297.98 L346.03 297.63 L346.83 297.51 L347.64 297.34 L348.44 297.35 L349.24 297.19 L350.05 296.78 L350.85 296.55 L351.65 296.53 L352.46 296.4 L353.26 296.23 L354.07 296.08 L354.87 295.96 L355.67 295.52 L356.48 295.39 L357.28 294.95 L358.09 294.71 L358.89 294.63 L359.69 294.33 L360.5 294.06 L361.3 293.93 L362.1 293.91 L362.91 293.77 L363.71 293.57 L364.52 293.25 L365.32 293.14 L366.12 293.26 L366.93 293.11 L367.73 292.93 L368.54 292.6 L369.34 292.4 L370.14 292.3 L370.95 292.3 L371.75 292.13 L372.56 292 L373.36 292.06 L374.16 292.08 L374.97 292.06 L375.77 291.89 L376.57 291.6 L377.38 291.47 L378.18 291.35 L378.99 291.34 L379.79 291.19 L380.59 291.12 L381.4 291.09 L382.2 291.09 L383.01 290.93 L383.81 290.75 L384.61 290.5 L385.42 290.3 L386.22 290.23 L387.02 290.26 L387.83 290.25 L388.63 290.25 L389.44 290.05 L390.24 290.14 L391.04 290.15 L391.85 290.17 L392.65 290.09 L393.46 290.12 L394.26 290.03 L395.06 290.01 L395.87 289.75 L396.67 289.69 L397.48 289.72 L398.28 289.84 L399.08 289.9 L399.89 289.61 L400.69 289.56 L401.49 289.52 L402.3 289.55 L403.1 289.51 L403.91 289.58 L404.71 289.54 L405.51 289.62 L406.32 289.62 L407.12 289.53 L407.93 289.56 L408.73 289.59 L409.53 289.48 L410.34 289.48 L411.14 289.31 L411.94 289.39 L412.75 289.41 L413.55 289.36 L414.36 289.32 L415.16 289.6 L415.96 289.6 L416.77 289.63 L417.57 289.63 L418.38 289.7 L419.18 289.87 L419.98 290.07 L420.79 290.13 L421.59 290.04 L422.4 290.25 L423.2 290.37 L424 290.47 L424.81 290.5 L425.61 290.37 L426.41 290.26 L427.22 290.23 L428.02 290.39 L428.83 290.77 L429.63 290.97 L430.43 291.12 L431.24 291.06 L432.04 291.15 L432.85 291.17 L433.65 291.42 L434.45 291.27 L435.26 291.25 L436.06 291.3 L436.86 291.4 L437.67 291.21 L438.47 291.32 L439.28 291.38 L440.08 291.3 L440.88 291.47 L441.69 291.46 L442.49 291.46 L443.3 291.52 L444.1 291.58 L444.9 291.6 L445.71 291.88 L446.51 291.86 L447.31 291.89 L448.12 291.96 L448.92 291.83 L449.73 291.82 L450.53 291.85 L451.33 291.97 L452.14 292 L452.94 292.07 L453.75 291.9 L454.55 291.85 L455.35 291.86 L456.16 291.66 L456.96 291.69 L457.77 291.7 L458.57 291.86 L459.37 292 L460.18 292.13 L460.98 292.02 L461.78 291.95 L462.59 291.89 L463.39 291.92 L464.2 291.95 L465 291.88" fill="none" stroke="#000" stroke-width="1.12" stroke-linejoin="round"/>
<path d="M319.5 304.17 L320.3 304.15 L321.11 304.21 L321.91 304.26 L322.72 304.18 L323.52 304.01 L324.32 303.98 L325.13 303.76 L325.93 303.93 L326.73 303.98 L327.54 303.99 L328.34 303.84 L329.15 303.94 L329.95 303.67 L330.75 303.68 L331.56 303.64 L332.36 303.46 L333.17 303.48 L333.97 303.29 L334.77 303.4 L335.58 303.37 L336.38 303.29 L337.19 303.26 L337.99 303.23 L338.79 303.15 L339.6 302.99 L340.4 302.95 L341.2 303.07 L342.01 302.95 L342.81 303.06 L343.62 302.96 L344.42 303.02 L345.22 302.79 L346.03 302.75 L346.83 302.76 L347.64 302.82 L348.44 302.95 L349.24 302.85 L350.05 302.82 L350.85 302.6 L351.65 302.58 L352.46 302.44 L353.26 302.24 L354.07 302.3 L354.87 302.27 L355.67 302.29 L356.48 302.33 L357.28 302.15 L358.09 302.07 L358.89 301.88 L359.69 301.82 L360.5 301.85 L361.3 301.74 L362.1 301.8 L362.91 301.72 L363.71 301.52 L364.52 301.56 L365.32 301.56 L366.12 301.65 L366.93 301.55 L367.73 301.46 L368.54 301.57 L369.34 301.47 L370.14 301.36 L370.95 301.53 L371.75 301.33 L372.56 301.09 L373.36 301.18 L374.16 301.18 L374.97 301.17 L375.77 301.18 L376.57 301.04 L377.38 301.08 L378.18 300.99 L378.99 300.99 L379.79 301.03 L380.59 300.98 L381.4 301.01 L382.2 300.93 L383.01 300.9 L383.81 300.77 L384.61 300.91 L385.42 300.89 L386.22 301 L387.02 300.88 L387.83 300.86 L388.63 300.62 L389.44 300.69 L390.24 300.92 L391.04 300.96 L391.85 300.93 L392.65 301 L393.46 300.87 L394.26 300.78 L395.06 300.65 L395.87 300.81 L396.67 300.76 L397.48 300.92 L398.28 300.82 L399.08 300.7 L399.89 300.72 L400.69 300.71 L401.49 300.55 L402.3 300.63 L403.1 300.46 L403.91 300.36 L404.71 300.61 L405.51 300.7 L406.32 300.64 L407.12 300.57 L407.93 300.51 L408.73 300.6 L409.53 300.66 L410.34 300.5 L411.14 300.51 L411.94 300.53 L412.75 300.66 L413.55 300.71 L414.36 300.58 L415.16 300.53 L415.96 300.62 L416.77 300.57 L417.57 300.53 L418.38 300.55 L419.18 300.67 L419.98 300.79 L420.79 300.91 L421.59 300.98 L422.4 300.93 L423.2 300.95 L424 301.05 L424.81 301.06 L425.61 301.24 L426.41 301.18 L427.22 301.3 L428.02 301.33 L428.83 301.21 L429.63 301.02 L430.43 301.01 L431.24 301.03 L432.04 301.14 L432.85 301.23 L433.65 301.24 L434.45 301.29 L435.26 301.25 L436.06 301.21 L436.86 301.36 L437.67 301.3 L438.47 301.19 L439.28 301.19 L440.08 300.98 L440.88 301.04 L441.69 301.08 L442.49 301.05 L443.3 301.14 L444.1 301.24 L444.9 301.41 L445.71 301.35 L446.51 301.41 L447.31 301.37 L448.12 301.4 L448.92 301.17 L449.73 301.26 L450.53 301.14 L451.33 301.24 L452.14 301.18 L452.94 301.34 L453.75 301.32 L454.55 301.23 L455.35 301.17 L456.16 301.17 L456.96 301.17 L457.77 301.26 L458.57 301.22 L459.37 301.04 L460.18 301.3 L460.98 301.3 L461.78 301.41 L462.59 301.44 L463.39 301.31 L464.2 301.34 L465 301.32" fill="none" stroke="#000" stroke-width="1.12" stroke-linejoin="round"/>
<path d="M319.5 304.38 L320.3 304.46 L321.11 304.43 L321.91 304.3 L322.72 304.26 L323.52 304.13 L324.32 304.24 L325.13 304.35 L325.93 304.43 L326.73 304.31 L327.54 304.17 L328.34 303.96 L329.15 303.98 L329.95 304.01 L330.75 304.02 L331.56 303.97 L332.36 303.89 L333.17 303.85 L333.97 303.9 L334.77 304.04 L335.58 303.9 L336.38 304.07 L337.19 304.08 L337.99 304.2 L338.79 304.09 L339.6 304.03 L340.4 304.04 L341.2 304.17 L342.01 304.09 L342.81 304.05 L343.62 303.94 L344.42 303.68 L345.22 303.77 L346.03 303.86 L346.83 303.93 L347.64 303.9 L348.44 303.92 L349.24 303.94 L350.05 303.93 L350.85 303.92 L351.65 303.88 L352.46 303.81 L353.26 303.87 L354.07 303.96 L354.87 303.88 L355.67 303.93 L356.48 303.89 L357.28 303.82 L358.09 303.72 L358.89 303.58 L359.69 303.52 L360.5 303.55 L361.3 303.76 L362.1 303.82 L362.91 303.69 L363.71 303.76 L364.52 303.7 L365.32 303.71 L366.12 303.77 L366.93 303.53 L367.73 303.42 L368.54 303.4 L369.34 303.69 L370.14 303.58 L370.95 303.61 L371.75 303.69 L372.56 303.56 L373.36 303.4 L374.16 303.42 L374.97 303.35 L375.77 303.34 L376.57 303.39 L377.38 303.28 L378.18 303.18 L378.99 303.27 L379.79 303.12 L380.59 303.25 L381.4 303.31 L382.2 303.12 L383.01 303.22 L383.81 303.2 L384.61 303.34 L385.42 303.29 L386.22 303.29 L387.02 303.33 L387.83 303.17 L388.63 303.21 L389.44 303.28 L390.24 303.28 L391.04 303.15 L391.85 303.27 L392.65 303.3 L393.46 303.4 L394.26 303.25 L395.06 303.24 L395.87 303.23 L396.67 303.21 L397.48 303.08 L398.28 303.11 L399.08 303.03 L399.89 303.04 L400.69 303.18 L401.49 303.27 L402.3 303.24 L403.1 303.25 L403.91 303.13 L404.71 303.11 L405.51 303.12 L406.32 303.02 L407.12 303.12 L407.93 303.12 L408.73 303.13 L409.53 303.04 L410.34 303.07 L411.14 302.89 L411.94 303.12 L412.75 303.1 L413.55 303.14 L414.36 303.17 L415.16 303.09 L415.96 302.94 L416.77 302.91 L417.57 302.98 L418.38 302.95 L419.18 303.26 L419.98 303.2 L420.79 303.14 L421.59 303.08 L422.4 302.9 L423.2 302.89 L424 302.82 L424.81 303.02 L425.61 303.02 L426.41 302.94 L427.22 302.86 L428.02 302.69 L428.83 302.99 L429.63 303.06 L430.43 302.96 L431.24 302.97 L432.04 302.85 L432.85 303.1 L433.65 303.22 L434.45 303.1 L435.26 303.1 L436.06 303.06 L436.86 303.21 L437.67 303.22 L438.47 303.15 L439.28 303.07 L440.08 302.76 L440.88 302.89 L441.69 302.97 L442.49 303.09 L443.3 303.2 L444.1 303.35 L444.9 303.32 L445.71 303.32 L446.51 303.05 L447.31 302.97 L448.12 302.84 L448.92 302.95 L449.73 302.85 L450.53 302.94 L451.33 303.03 L452.14 303.07 L452.94 303.21 L453.75 303.25 L454.55 303.37 L455.35 303.31 L456.16 303.4 L456.96 303.25 L457.77 303.4 L458.57 303.55 L459.37 303.23 L460.18 303.24 L460.98 303.26 L461.78 303.4 L462.59 303.4 L463.39 303.44 L464.2 303.29 L465 303.29" fill="none" stroke="#000" stroke-width="1.12" stroke-linejoin="round"/>
<line x1="308" y1="304.3" x2="319.6" y2="304.3" stroke="#111" stroke-width="1.4"/>
<line x1="483.7" y1="238.8" x2="483.7" y2="296.4" stroke="#111" stroke-width="1.35"/>
<path d="M483.7 235.5 L481.1 241.3 L486.3 241.3 Z" fill="#111"/>
<text x="484.4" y="231.8" font-size="7.6" text-anchor="middle" fill="#111" stroke="#111" stroke-width="0.22">3nM</text>
<text x="484.2" y="305.2" font-size="7.6" text-anchor="middle" fill="#111" stroke="#111" stroke-width="0.22">0.13nM</text>
</g>
<g id="panelE" font-family='"Liberation Sans", Arial, Helvetica, sans-serif'>
<text x="278.8" y="385" font-size="10.8" text-anchor="start" fill="#000" font-weight="700">E</text>
<text x="404.6" y="395.7" font-size="9.7" text-anchor="middle" fill="#111" stroke="#111" stroke-width="0.22">HKC</text>
<line x1="311" y1="397.6" x2="311" y2="528" stroke="#262626" stroke-width="1.4"/>
<line x1="307" y1="399.6" x2="311" y2="399.6" stroke="#262626" stroke-width="1.0"/>
<text x="305.2" y="402.4" font-size="8.3" text-anchor="end" fill="#111" stroke="#111" stroke-width="0.22">60</text>
<line x1="307" y1="415.35" x2="311" y2="415.35" stroke="#262626" stroke-width="1.0"/>
<text x="305.2" y="418.15" font-size="8.3" text-anchor="end" fill="#111" stroke="#111" stroke-width="0.22">50</text>
<line x1="307" y1="431.1" x2="311" y2="431.1" stroke="#262626" stroke-width="1.0"/>
<text x="305.2" y="433.9" font-size="8.3" text-anchor="end" fill="#111" stroke="#111" stroke-width="0.22">40</text>
<line x1="307" y1="446.85" x2="311" y2="446.85" stroke="#262626" stroke-width="1.0"/>
<text x="305.2" y="449.65" font-size="8.3" text-anchor="end" fill="#111" stroke="#111" stroke-width="0.22">30</text>
<line x1="307" y1="462.6" x2="311" y2="462.6" stroke="#262626" stroke-width="1.0"/>
<text x="305.2" y="465.4" font-size="8.3" text-anchor="end" fill="#111" stroke="#111" stroke-width="0.22">20</text>
<line x1="307" y1="478.35" x2="311" y2="478.35" stroke="#262626" stroke-width="1.0"/>
<text x="305.2" y="481.15" font-size="8.3" text-anchor="end" fill="#111" stroke="#111" stroke-width="0.22">10</text>
<line x1="307" y1="494.1" x2="311" y2="494.1" stroke="#262626" stroke-width="1.0"/>
<text x="305.2" y="496.9" font-size="8.3" text-anchor="end" fill="#111" stroke="#111" stroke-width="0.22">0</text>
<line x1="307" y1="509.85" x2="311" y2="509.85" stroke="#262626" stroke-width="1.0"/>
<text x="305.2" y="512.65" font-size="8.3" text-anchor="end" fill="#111" stroke="#111" stroke-width="0.22">−10</text>
<line x1="307.5" y1="527.5" x2="311" y2="527.5" stroke="#262626" stroke-width="1.0"/>
<line x1="311" y1="509.85" x2="498.2" y2="509.85" stroke="#262626" stroke-width="1.4"/>
<line x1="341.78" y1="509.85" x2="341.78" y2="513.25" stroke="#262626" stroke-width="1.0"/>
<text x="341.78" y="524.2" font-size="8.3" text-anchor="middle" fill="#111" stroke="#111" stroke-width="0.22">50</text>
<line x1="380.12" y1="509.85" x2="380.12" y2="513.25" stroke="#262626" stroke-width="1.0"/>
<text x="380.12" y="524.2" font-size="8.3" text-anchor="middle" fill="#111" stroke="#111" stroke-width="0.22">150</text>
<line x1="418.48" y1="509.85" x2="418.48" y2="513.25" stroke="#262626" stroke-width="1.0"/>
<text x="418.48" y="524.2" font-size="8.3" text-anchor="middle" fill="#111" stroke="#111" stroke-width="0.22">250</text>
<line x1="456.83" y1="509.85" x2="456.83" y2="513.25" stroke="#262626" stroke-width="1.0"/>
<text x="456.83" y="524.2" font-size="8.3" text-anchor="middle" fill="#111" stroke="#111" stroke-width="0.22">350</text>
<line x1="495.18" y1="509.85" x2="495.18" y2="513.25" stroke="#262626" stroke-width="1.0"/>
<text x="495.18" y="524.2" font-size="8.3" text-anchor="middle" fill="#111" stroke="#111" stroke-width="0.22">450</text>
<text x="394" y="537.3" font-size="10.6" text-anchor="middle" fill="#111" textLength="32.4" lengthAdjust="spacingAndGlyphs" stroke="#111" stroke-width="0.22">Time (s)</text>
<text x="286.2" y="463.4" font-size="10.4" text-anchor="middle" fill="#111" textLength="11.2" lengthAdjust="spacingAndGlyphs" transform="rotate(-90 286.2 463.4)" stroke="#111" stroke-width="0.22">RU</text>
<path d="M323.25 434.55 L324.05 438.51 L324.86 440.31 L325.66 441.4 L326.46 441.81 L327.26 441.12 L328.07 439.88 L328.87 438.36 L329.67 436.76 L330.47 435.84 L331.28 434.57 L332.08 433.53 L332.88 432.47 L333.69 431.56 L334.49 430.81 L335.29 429.8 L336.09 428.79 L336.9 428.15 L337.7 427.41 L338.5 426.61 L339.3 426.12 L340.11 425.59 L340.91 425.16 L341.71 424.56 L342.52 424.18 L343.32 423.64 L344.12 422.61 L344.92 422.15 L345.73 421.84 L346.53 421.51 L347.33 421.52 L348.13 420.86 L348.94 420.42 L349.74 419.79 L350.54 419.62 L351.35 419.38 L352.15 419.27 L352.95 419.39 L353.75 419.13 L354.56 419.06 L355.36 418.85 L356.16 418.63 L356.96 418.41 L357.77 418.23 L358.57 418.16 L359.37 418.26 L360.18 418.18 L360.98 417.92 L361.78 417.74 L362.58 417.89 L363.39 418.24 L364.19 418.11 L364.99 417.87 L365.79 417.66 L366.6 417.34 L367.4 417.25 L368.2 416.83 L369.01 416.53 L369.81 416.68 L370.61 416.61 L371.41 416.9 L372.22 417.03 L373.02 417.06 L373.82 417.06 L374.62 417.14 L375.43 417.26 L376.23 417.12 L377.03 417.14 L377.84 417.3 L378.64 417.23 L379.44 417.22 L380.24 417.27 L381.05 417.78 L381.85 418.2 L382.65 418.27 L383.46 418.61 L384.26 418.66 L385.06 418.82 L385.86 418.76 L386.67 418.8 L387.47 419.03 L388.27 418.84 L389.07 419.16 L389.88 419.27 L390.68 419.38 L391.48 419.29 L392.29 419.25 L393.09 419.89 L393.89 419.95 L394.69 419.82 L395.5 419.96 L396.3 419.91 L397.1 419.87 L397.9 420.17 L398.71 420.22 L399.51 420.1 L400.31 420.22 L401.12 420.69 L401.92 420.95 L402.72 421.09 L403.52 420.94 L404.33 420.95 L405.13 421.12 L405.93 421.1 L406.73 421.43 L407.54 421.63 L408.34 421.65 L409.14 421.77 L409.95 421.64 L410.75 421.8 L411.55 422.22 L412.35 421.71 L413.16 421.84 L413.96 421.67 L414.76 421.79 L415.56 421.96 L416.37 422.26 L417.17 422.55 L417.97 422.63 L418.78 422.66 L419.58 422.65 L420.38 422.6 L421.18 423.05 L421.99 422.78 L422.79 422.77 L423.59 422.73 L424.39 422.73 L425.2 422.77 L426 422.7" fill="none" stroke="#000" stroke-width="1.2" stroke-linejoin="round"/>
<path d="M323.75 448.51 L324.56 450.32 L325.36 451.4 L326.17 451.46 L326.97 450.8 L327.78 450.13 L328.58 449.13 L329.39 448.39 L330.19 447.17 L331 446.43 L331.8 444.9 L332.61 444.03 L333.41 442.95 L334.22 442.11 L335.02 441.43 L335.83 440.72 L336.63 439.83 L337.44 439.12 L338.24 438.28 L339.05 437.5 L339.85 436.85 L340.66 436 L341.46 435.57 L342.27 435.12 L343.07 434.45 L343.88 433.79 L344.68 433 L345.49 432.61 L346.29 432.02 L347.1 431.85 L347.9 431.49 L348.71 430.73 L349.51 430.38 L350.32 429.44 L351.12 429.11 L351.93 428.89 L352.73 428.51 L353.54 427.97 L354.34 427.56 L355.15 426.93 L355.95 426.43 L356.76 425.93 L357.56 425.45 L358.37 425.33 L359.18 425.17 L359.98 425.38 L360.79 425.01 L361.59 424.65 L362.4 424.32 L363.2 423.91 L364.01 423.74 L364.81 423.55 L365.62 423.2 L366.42 422.87 L367.23 422.78 L368.03 422.38 L368.84 422.08 L369.64 421.91 L370.45 421.83 L371.25 421.45 L372.06 421.36 L372.86 421.41 L373.67 421.26 L374.47 420.98 L375.28 420.51 L376.08 420.18 L376.89 420.27 L377.69 420.35 L378.5 420.59 L379.3 420.36 L380.11 420.13 L380.91 420.01 L381.72 420.03 L382.52 420 L383.33 420.04 L384.13 419.86 L384.94 419.69 L385.74 419.62 L386.55 419.85 L387.35 419.59 L388.16 419.47 L388.96 419.24 L389.77 419.15 L390.57 419.3 L391.38 419.17 L392.19 419.7 L392.99 420 L393.8 419.95 L394.6 419.81 L395.41 419.33 L396.21 419.51 L397.02 419.74 L397.82 419.85 L398.63 420.36 L399.43 420.3 L400.24 420.1 L401.04 419.58 L401.85 419.63 L402.65 419.86 L403.46 420.47 L404.26 420.86 L405.07 420.62 L405.87 420.84 L406.68 420.94 L407.48 421.22 L408.29 421.1 L409.09 421.06 L409.9 421.25 L410.7 421.36 L411.51 421.43 L412.31 421.43 L413.12 421.27 L413.92 421.21 L414.73 421.13 L415.53 421.63 L416.34 421.9 L417.14 422.29 L417.95 422.29 L418.75 422.48 L419.56 422.62 L420.36 422.7 L421.17 422.89 L421.97 422.73 L422.78 422.65 L423.58 422.88 L424.39 423.14 L425.19 423 L426 423.19" fill="none" stroke="#000" stroke-width="1.2" stroke-linejoin="round"/>
<path d="M323.75 452.38 L324.56 454.1 L325.36 455.15 L326.17 454.75 L326.97 454.23 L327.78 452.82 L328.58 452.1 L329.39 451.26 L330.19 450.42 L331 449.72 L331.8 448.47 L332.61 447.35 L333.41 446.26 L334.22 445.18 L335.02 444.21 L335.83 443.38 L336.63 442.5 L337.44 441.79 L338.24 441.2 L339.05 440.34 L339.85 439.38 L340.66 438.61 L341.46 438.11 L342.27 437.62 L343.07 437.17 L343.88 436.64 L344.68 435.76 L345.49 435.24 L346.29 435.08 L347.1 434.65 L347.9 434.07 L348.71 433.61 L349.51 432.94 L350.32 432.52 L351.12 432.29 L351.93 431.8 L352.73 431.42 L353.54 430.96 L354.34 430.84 L355.15 430.66 L355.95 430.54 L356.76 430.05 L357.56 429.48 L358.37 429.87 L359.18 429.81 L359.98 429.88 L360.79 429.38 L361.59 428.88 L362.4 428.4 L363.2 428.19 L364.01 428.13 L364.81 428.31 L365.62 428.18 L366.42 427.94 L367.23 428.2 L368.03 427.69 L368.84 427.52 L369.64 427.14 L370.45 426.91 L371.25 427.29 L372.06 427.42 L372.86 427.14 L373.67 426.97 L374.47 426.56 L375.28 426.83 L376.08 426.68 L376.89 426.61 L377.69 426.58 L378.5 426.55 L379.3 426.37 L380.11 426.13 L380.91 425.93 L381.72 425.99 L382.52 426.2 L383.33 426.68 L384.13 426.69 L384.94 426.65 L385.74 426.52 L386.55 426.57 L387.35 426.27 L388.16 426.62 L388.96 426.66 L389.77 426.65 L390.57 426.48 L391.38 426.78 L392.19 426.79 L392.99 426.99 L393.8 427.24 L394.6 427.38 L395.41 427.36 L396.21 427.13 L397.02 427.04 L397.82 427.22 L398.63 427.62 L399.43 427.91 L400.24 428.03 L401.04 428.01 L401.85 427.53 L402.65 427.39 L403.46 427.6 L404.26 427.9 L405.07 428.01 L405.87 428.19 L406.68 428.49 L407.48 428.94 L408.29 429.14 L409.09 429.24 L409.9 429.03 L410.7 429.34 L411.51 429.25 L412.31 429.34 L413.12 429.79 L413.92 429.84 L414.73 430.05 L415.53 430.08 L416.34 430.67 L417.14 430.83 L417.95 430.87 L418.75 431.09 L419.56 431.09 L420.36 431.09 L421.17 431.08 L421.97 431 L422.78 431.26 L423.58 431.3 L424.39 431.59 L425.19 431.82 L426 432.08" fill="none" stroke="#000" stroke-width="1.2" stroke-linejoin="round"/>
<path d="M323.75 471.14 L324.56 472.54 L325.36 472.99 L326.17 472.73 L326.97 472.1 L327.78 471.47 L328.58 471.01 L329.39 470.2 L330.19 469.55 L331 468.85 L331.8 467.75 L332.61 467.39 L333.41 466.98 L334.22 466.4 L335.02 465.75 L335.83 465.04 L336.63 464.42 L337.44 464.2 L338.24 463.65 L339.05 462.68 L339.85 462.09 L340.66 461.13 L341.46 460.7 L342.27 460.29 L343.07 459.82 L343.88 459.46 L344.68 458.63 L345.49 458.35 L346.29 457.7 L347.1 456.95 L347.9 456.19 L348.71 455.37 L349.51 455.04 L350.32 454.73 L351.12 454.37 L351.93 454 L352.73 453.59 L353.54 453.21 L354.34 452.85 L355.15 452.55 L355.95 452.19 L356.76 451.58 L357.56 451.06 L358.37 450.91 L359.18 450.46 L359.98 450.31 L360.79 449.67 L361.59 449.17 L362.4 448.5 L363.2 448.21 L364.01 448.02 L364.81 447.81 L365.62 447.63 L366.42 447.47 L367.23 446.82 L368.03 446.58 L368.84 446.29 L369.64 446.59 L370.45 446.47 L371.25 446.05 L372.06 445.61 L372.86 445.42 L373.67 445.16 L374.47 445.28 L375.28 445.4 L376.08 445.25 L376.89 445.17 L377.69 444.96 L378.5 444.67 L379.3 444.3 L380.11 443.92 L380.91 443.82 L381.72 443.78 L382.52 444.11 L383.33 444.01 L384.13 443.89 L384.94 443.98 L385.74 443.8 L386.55 443.38 L387.35 443.64 L388.16 443.7 L388.96 443.61 L389.77 443.69 L390.57 443.56 L391.38 443.19 L392.19 443.05 L392.99 443.21 L393.8 443.37 L394.6 443.42 L395.41 443.45 L396.21 443.38 L397.02 443.2 L397.82 443.12 L398.63 442.94 L399.43 443.35 L400.24 443.17 L401.04 443.35 L401.85 443.49 L402.65 443.53 L403.46 443.6 L404.26 443.69 L405.07 443.3 L405.87 443.3 L406.68 443.24 L407.48 443.18 L408.29 443.39 L409.09 443.7 L409.9 443.55 L410.7 443.69 L411.51 443.74 L412.31 443.95 L413.12 444.14 L413.92 443.99 L414.73 443.98 L415.53 443.83 L416.34 443.99 L417.14 444.35 L417.95 444.32 L418.75 444.82 L419.56 444.62 L420.36 444.78 L421.17 444.72 L421.97 444.61 L422.78 444.66 L423.58 445.17 L424.39 445.13 L425.19 445.22 L426 445.3" fill="none" stroke="#000" stroke-width="1.2" stroke-linejoin="round"/>
<path d="M323.75 489.96 L324.56 489.46 L325.36 488.56 L326.17 487.72 L326.97 487.24 L327.78 486.38 L328.58 485.78 L329.39 485.2 L330.19 484.64 L331 484.12 L331.8 484.05 L332.61 483.47 L333.41 482.76 L334.22 482.56 L335.02 481.99 L335.83 481.44 L336.63 480.83 L337.44 480.19 L338.24 479.82 L339.05 479.38 L339.85 479.01 L340.66 478.43 L341.46 477.8 L342.27 477.45 L343.07 477.24 L343.88 476.67 L344.68 476.61 L345.49 476.14 L346.29 475.81 L347.1 475.37 L347.9 474.97 L348.71 474.53 L349.51 474.13 L350.32 473.79 L351.12 473.48 L351.93 473.33 L352.73 473.04 L353.54 472.69 L354.34 472.32 L355.15 471.61 L355.95 471.35 L356.76 471.35 L357.56 471.27 L358.37 471.16 L359.18 470.84 L359.98 470.48 L360.79 470.12 L361.59 469.71 L362.4 469.76 L363.2 469.88 L364.01 469.65 L364.81 469.29 L365.62 468.93 L366.42 468.75 L367.23 468.46 L368.03 468.11 L368.84 467.78 L369.64 467.98 L370.45 468.09 L371.25 468.22 L372.06 468.49 L372.86 468.23 L373.67 468.08 L374.47 468.14 L375.28 467.78 L376.08 468.08 L376.89 467.77 L377.69 467.51 L378.5 467.45 L379.3 467.43 L380.11 467.37 L380.91 467.18 L381.72 467.3 L382.52 467 L383.33 467.4 L384.13 467.57 L384.94 467.71 L385.74 467.37 L386.55 467.15 L387.35 466.8 L388.16 466.73 L388.96 467.01 L389.77 466.86 L390.57 466.7 L391.38 466.78 L392.19 466.62 L392.99 466.7 L393.8 466.86 L394.6 466.91 L395.41 466.86 L396.21 466.61 L397.02 466.53 L397.82 466.81 L398.63 467.16 L399.43 467.02 L400.24 467.04 L401.04 467.02 L401.85 466.98 L402.65 467.18 L403.46 467.24 L404.26 466.99 L405.07 466.71 L405.87 466.67 L406.68 466.79 L407.48 466.7 L408.29 466.86 L409.09 466.67 L409.9 466.86 L410.7 466.98 L411.51 467.35 L412.31 466.96 L413.12 467.06 L413.92 466.76 L414.73 466.92 L415.53 467.08 L416.34 466.94 L417.14 466.69 L417.95 466.86 L418.75 467 L419.56 467.14 L420.36 467.2 L421.17 467.13 L421.97 467.21 L422.78 467.35 L423.58 467.3 L424.39 467.42 L425.19 467.34 L426 467.42" fill="none" stroke="#000" stroke-width="1.2" stroke-linejoin="round"/>
<path d="M323.75 491.63 L324.56 491.16 L325.36 490.6 L326.17 490 L326.97 489.62 L327.78 488.93 L328.58 488.26 L329.39 487.88 L330.19 487.77 L331 487.06 L331.8 486.62 L332.61 485.9 L333.41 485.64 L334.22 485.48 L335.02 485 L335.83 484.68 L336.63 484.44 L337.44 483.73 L338.24 483.4 L339.05 482.92 L339.85 482.65 L340.66 482.43 L341.46 482 L342.27 481.62 L343.07 480.84 L343.88 480.31 L344.68 479.92 L345.49 479.52 L346.29 479.31 L347.1 479.31 L347.9 478.87 L348.71 478.9 L349.51 478.54 L350.32 478.11 L351.12 477.73 L351.93 477.58 L352.73 477.27 L353.54 477.07 L354.34 476.41 L355.15 475.94 L355.95 475.76 L356.76 475.67 L357.56 475.62 L358.37 475.32 L359.18 474.86 L359.98 474.9 L360.79 474.72 L361.59 474.6 L362.4 474.43 L363.2 473.87 L364.01 473.5 L364.81 473.35 L365.62 472.98 L366.42 472.87 L367.23 473.17 L368.03 472.71 L368.84 472.66 L369.64 472.68 L370.45 472.81 L371.25 472.49 L372.06 472.08 L372.86 471.61 L373.67 471.45 L374.47 471.66 L375.28 471.84 L376.08 471.54 L376.89 471.45 L377.69 471.29 L378.5 471.28 L379.3 471.2 L380.11 471.12 L380.91 471.27 L381.72 471.22 L382.52 471.23 L383.33 471.1 L384.13 471.02 L384.94 471.07 L385.74 471.17 L386.55 471.03 L387.35 471.05 L388.16 470.87 L388.96 471.08 L389.77 471.12 L390.57 471.15 L391.38 471.24 L392.19 471.05 L392.99 471.07 L393.8 471.42 L394.6 471.36 L395.41 471.52 L396.21 471 L397.02 470.78 L397.82 470.85 L398.63 470.85 L399.43 470.87 L400.24 470.99 L401.04 470.92 L401.85 471.48 L402.65 471.54 L403.46 471.52 L404.26 471.15 L405.07 470.82 L405.87 470.99 L406.68 471.11 L407.48 471.26 L408.29 471.14 L409.09 471.11 L409.9 471.14 L410.7 470.91 L411.51 471.05 L412.31 470.75 L413.12 470.9 L413.92 471.03 L414.73 470.89 L415.53 470.78 L416.34 470.74 L417.14 470.49 L417.95 470.47 L418.75 470.45 L419.56 470.6 L420.36 470.81 L421.17 470.87 L421.97 470.89 L422.78 470.95 L423.58 470.74 L424.39 470.62 L425.19 470.47 L426 470.68" fill="none" stroke="#000" stroke-width="1.2" stroke-linejoin="round"/>
<path d="M323.75 492.48 L324.56 491.74 L325.36 491.35 L326.17 491.23 L326.97 490.96 L327.78 490.8 L328.58 490.28 L329.39 490.09 L330.19 489.58 L331 489.17 L331.8 488.6 L332.61 488.03 L333.41 488.02 L334.22 487.68 L335.02 487.02 L335.83 486.5 L336.63 486.02 L337.44 485.61 L338.24 485.06 L339.05 485.14 L339.85 485.02 L340.66 484.65 L341.46 484.18 L342.27 483.93 L343.07 483.62 L343.88 483.19 L344.68 482.98 L345.49 482.52 L346.29 482.38 L347.1 481.84 L347.9 481.89 L348.71 481.45 L349.51 480.92 L350.32 480.56 L351.12 480.31 L351.93 480.03 L352.73 479.73 L353.54 479.71 L354.34 479.67 L355.15 479.17 L355.95 478.49 L356.76 478.36 L357.56 478.07 L358.37 478.23 L359.18 478.34 L359.98 477.96 L360.79 477.67 L361.59 477.45 L362.4 477.2 L363.2 477.11 L364.01 476.84 L364.81 476.87 L365.62 476.68 L366.42 476.81 L367.23 476.5 L368.03 476.29 L368.84 475.93 L369.64 475.49 L370.45 475.3 L371.25 475.84 L372.06 475.76 L372.86 475.68 L373.67 475.2 L374.47 474.95 L375.28 474.91 L376.08 474.89 L376.89 474.7 L377.69 474.44 L378.5 474.29 L379.3 474.15 L380.11 474.5 L380.91 474.18 L381.72 474.24 L382.52 474.3 L383.33 474.37 L384.13 474.21 L384.94 474.3 L385.74 474.52 L386.55 474.37 L387.35 473.99 L388.16 473.95 L388.96 474 L389.77 474.2 L390.57 474 L391.38 474.1 L392.19 474.11 L392.99 474.09 L393.8 474.18 L394.6 474.12 L395.41 474.3 L396.21 474.31 L397.02 474.29 L397.82 474.25 L398.63 474.04 L399.43 473.82 L400.24 473.85 L401.04 473.86 L401.85 473.86 L402.65 473.85 L403.46 474.09 L404.26 474.22 L405.07 473.78 L405.87 473.54 L406.68 473.42 L407.48 473.25 L408.29 473.28 L409.09 473.3 L409.9 473.5 L410.7 473.5 L411.51 473.63 L412.31 473.72 L413.12 473.83 L413.92 474.06 L414.73 473.79 L415.53 473.82 L416.34 473.73 L417.14 474.01 L417.95 473.92 L418.75 473.62 L419.56 473.45 L420.36 473.44 L421.17 473.56 L421.97 473.84 L422.78 474.06 L423.58 474.23 L424.39 474.09 L425.19 474.07 L426 474.03" fill="none" stroke="#000" stroke-width="1.2" stroke-linejoin="round"/>
<path d="M323.75 493.03 L324.56 492.6 L325.36 492.63 L326.17 492.28 L326.97 491.55 L327.78 490.98 L328.58 490.41 L329.39 490.1 L330.19 489.7 L331 490.04 L331.8 489.64 L332.61 489.45 L333.41 488.98 L334.22 488.68 L335.02 488.6 L335.83 487.92 L336.63 487.42 L337.44 487.07 L338.24 487.05 L339.05 486.88 L339.85 486.35 L340.66 485.99 L341.46 485.54 L342.27 485.64 L343.07 485.13 L343.88 484.83 L344.68 484.73 L345.49 484.41 L346.29 484.14 L347.1 483.87 L347.9 483.58 L348.71 483.31 L349.51 482.93 L350.32 482.44 L351.12 482.16 L351.93 481.99 L352.73 481.52 L353.54 481.73 L354.34 481.47 L355.15 481.25 L355.95 480.72 L356.76 480.47 L357.56 480.3 L358.37 479.88 L359.18 480.12 L359.98 480 L360.79 479.83 L361.59 479.77 L362.4 479.4 L363.2 479.15 L364.01 478.99 L364.81 479.18 L365.62 478.91 L366.42 478.91 L367.23 478.72 L368.03 478.82 L368.84 478.84 L369.64 478.61 L370.45 478.33 L371.25 477.98 L372.06 477.96 L372.86 477.91 L373.67 477.88 L374.47 477.85 L375.28 477.52 L376.08 477.21 L376.89 477.09 L377.69 477.26 L378.5 477.27 L379.3 477.23 L380.11 477.48 L380.91 477.07 L381.72 477.23 L382.52 477.08 L383.33 476.92 L384.13 477.16 L384.94 477.06 L385.74 477.03 L386.55 477.23 L387.35 476.94 L388.16 476.66 L388.96 476.75 L389.77 476.73 L390.57 476.71 L391.38 476.69 L392.19 476.35 L392.99 476.61 L393.8 476.91 L394.6 476.75 L395.41 476.73 L396.21 476.63 L397.02 476.51 L397.82 476.26 L398.63 476.44 L399.43 476.5 L400.24 476.75 L401.04 476.74 L401.85 476.45 L402.65 476.63 L403.46 476.59 L404.26 476.36 L405.07 476.34 L405.87 476.14 L406.68 476.41 L407.48 476.18 L408.29 475.94 L409.09 475.93 L409.9 475.7 L410.7 475.99 L411.51 476.37 L412.31 476.41 L413.12 475.87 L413.92 475.86 L414.73 475.93 L415.53 475.98 L416.34 476.11 L417.14 475.97 L417.95 475.79 L418.75 475.82 L419.56 475.69 L420.36 475.73 L421.17 475.88 L421.97 476.02 L422.78 476.05 L423.58 476.29 L424.39 476.34 L425.19 476.21 L426 476.11" fill="none" stroke="#000" stroke-width="1.2" stroke-linejoin="round"/>
<path d="M323.75 492.89 L324.56 492.76 L325.36 492.64 L326.17 492.66 L326.97 492.71 L327.78 492.15 L328.58 492.26 L329.39 492.19 L330.19 492.18 L331 491.95 L331.8 491.62 L332.61 491.71 L333.41 491.68 L334.22 491.09 L335.02 490.87 L335.83 490.91 L336.63 490.47 L337.44 490.27 L338.24 490.2 L339.05 489.95 L339.85 489.74 L340.66 490.05 L341.46 489.97 L342.27 489.85 L343.07 489.35 L343.88 489.2 L344.68 489.01 L345.49 489.04 L346.29 488.92 L347.1 488.7 L347.9 488.37 L348.71 488.05 L349.51 488.3 L350.32 488.35 L351.12 488.18 L351.93 487.93 L352.73 487.52 L353.54 487.26 L354.34 486.87 L355.15 486.95 L355.95 486.64 L356.76 486.92 L357.56 486.26 L358.37 486.1 L359.18 486.15 L359.98 485.85 L360.79 485.63 L361.59 485.19 L362.4 484.77 L363.2 484.56 L364.01 484.7 L364.81 484.87 L365.62 485 L366.42 485.11 L367.23 484.82 L368.03 484.88 L368.84 484.88 L369.64 484.58 L370.45 484.11 L371.25 483.74 L372.06 483.71 L372.86 483.47 L373.67 483.54 L374.47 483.35 L375.28 483.45 L376.08 483.31 L376.89 483.32 L377.69 483.28 L378.5 483.26 L379.3 483.62 L380.11 483.44 L380.91 483.64 L381.72 483.66 L382.52 483.56 L383.33 483.32 L384.13 483.05 L384.94 482.77 L385.74 482.98 L386.55 483.11 L387.35 483.48 L388.16 483.56 L388.96 483.19 L389.77 483.2 L390.57 482.95 L391.38 482.95 L392.19 482.94 L392.99 482.69 L393.8 482.78 L394.6 482.56 L395.41 482.59 L396.21 482.65 L397.02 482.44 L397.82 482.54 L398.63 482.7 L399.43 482.75 L400.24 482.44 L401.04 482.42 L401.85 482.4 L402.65 482.67 L403.46 482.89 L404.26 483.05 L405.07 483.04 L405.87 483 L406.68 482.63 L407.48 482.86 L408.29 482.74 L409.09 482.63 L409.9 482.6 L410.7 482.61 L411.51 482.81 L412.31 482.84 L413.12 482.72 L413.92 482.85 L414.73 482.84 L415.53 482.66 L416.34 482.53 L417.14 482.25 L417.95 482.23 L418.75 482.11 L419.56 482.52 L420.36 482.64 L421.17 482.59 L421.97 482.41 L422.78 482.58 L423.58 482.54 L424.39 482.62 L425.19 482.7 L426 482.51" fill="none" stroke="#000" stroke-width="1.2" stroke-linejoin="round"/>
<path d="M428 466.89 L428.81 466.07 L429.62 465.74 L430.43 465.82 L431.23 466.06 L432.04 466.09 L432.85 466.11 L433.66 466.23 L434.47 466.21 L435.28 466.22 L436.08 466.02 L436.89 466.11 L437.7 466.03 L438.51 466.16 L439.32 466.16 L440.13 466.2 L440.94 466.22 L441.74 466.29 L442.55 466.37 L443.36 466.34 L444.17 466.32 L444.98 466.27 L445.79 466.36 L446.59 466.25 L447.4 466.4 L448.21 466.56 L449.02 466.42 L449.83 466.53 L450.64 466.56 L451.45 466.59 L452.25 466.52 L453.06 466.71 L453.87 466.67 L454.68 466.62 L455.49 466.69 L456.3 466.5 L457.11 466.59 L457.91 466.47 L458.72 466.48 L459.53 466.29 L460.34 466.38 L461.15 466.47 L461.96 466.61 L462.76 466.71 L463.57 466.63 L464.38 466.64 L465.19 466.64 L466 466.6 L466.81 466.54 L467.62 466.65 L468.42 466.6 L469.23 466.57 L470.04 466.54 L470.85 466.52 L471.66 466.56 L472.47 466.58 L473.27 466.48 L474.08 466.65 L474.89 466.66 L475.7 466.72" fill="none" stroke="#000" stroke-width="1.7" stroke-linejoin="round"/>
<path d="M428 468.93 L428.81 468.32 L429.62 468 L430.43 468.03 L431.23 468.07 L432.04 468.3 L432.85 468.26 L433.66 468.17 L434.47 468.04 L435.28 468.16 L436.08 468.18 L436.89 467.96 L437.7 468.08 L438.51 468 L439.32 468.17 L440.13 468.28 L440.94 468.24 L441.74 468.38 L442.55 468.48 L443.36 468.63 L444.17 468.87 L444.98 468.89 L445.79 468.84 L446.59 468.79 L447.4 468.68 L448.21 468.73 L449.02 468.69 L449.83 468.79 L450.64 468.89 L451.45 468.99 L452.25 469.18 L453.06 469.19 L453.87 469.03 L454.68 468.91 L455.49 468.89 L456.3 468.9 L457.11 468.96 L457.91 469.15 L458.72 469.22 L459.53 469.34 L460.34 469.35 L461.15 469.44 L461.96 469.38 L462.76 469.43 L463.57 469.37 L464.38 469.23 L465.19 469.23 L466 469.24 L466.81 469.24 L467.62 469.24 L468.42 469.11 L469.23 469.24 L470.04 469.58 L470.85 469.68 L471.66 469.71 L472.47 469.74 L473.27 469.73 L474.08 469.7 L474.89 469.65 L475.7 469.49" fill="none" stroke="#000" stroke-width="1.2" stroke-linejoin="round"/>
<path d="M428 471.94 L428.81 471.23 L429.62 471.01 L430.43 470.78 L431.23 470.84 L432.04 470.65 L432.85 470.72 L433.66 470.67 L434.47 470.8 L435.28 470.81 L436.08 470.73 L436.89 470.78 L437.7 470.83 L438.51 470.94 L439.32 470.92 L440.13 471.15 L440.94 471.2 L441.74 471.13 L442.55 471.16 L443.36 471.15 L444.17 471.24 L444.98 471.46 L445.79 471.51 L446.59 471.68 L447.4 471.68 L448.21 471.72 L449.02 471.52 L449.83 471.53 L450.64 471.57 L451.45 471.74 L452.25 471.74 L453.06 471.74 L453.87 471.61 L454.68 471.65 L455.49 471.7 L456.3 471.81 L457.11 471.78 L457.91 471.94 L458.72 472.04 L459.53 472.08 L460.34 472 L461.15 472.1 L461.96 472.16 L462.76 472.23 L463.57 472.17 L464.38 472.02 L465.19 472.22 L466 472.29 L466.81 472.14 L467.62 472.27 L468.42 472.28 L469.23 472.28 L470.04 472.32 L470.85 472.15 L471.66 472.3 L472.47 472.28 L473.27 472.3 L474.08 472.37 L474.89 472.55 L475.7 472.69" fill="none" stroke="#000" stroke-width="1.2" stroke-linejoin="round"/>
<path d="M428 474.22 L428.81 473.52 L429.62 473.17 L430.43 473 L431.23 473.03 L432.04 472.98 L432.85 473.01 L433.66 473.13 L434.47 473.19 L435.28 473.2 L436.08 473.3 L436.89 473.35 L437.7 473.48 L438.51 473.35 L439.32 473.43 L440.13 473.46 L440.94 473.64 L441.74 473.66 L442.55 473.7 L443.36 473.67 L444.17 473.7 L444.98 473.72 L445.79 473.81 L446.59 473.89 L447.4 473.82 L448.21 473.94 L449.02 474.03 L449.83 474.02 L450.64 474.02 L451.45 473.98 L452.25 474.11 L453.06 474.16 L453.87 473.95 L454.68 474.01 L455.49 474 L456.3 474.01 L457.11 474.05 L457.91 474.06 L458.72 474.09 L459.53 474.01 L460.34 474.14 L461.15 474.32 L461.96 474.52 L462.76 474.58 L463.57 474.54 L464.38 474.4 L465.19 474.21 L466 474.2 L466.81 474.31 L467.62 474.32 L468.42 474.5 L469.23 474.51 L470.04 474.7 L470.85 474.76 L471.66 474.88 L472.47 474.84 L473.27 474.84 L474.08 474.88 L474.89 474.88 L475.7 474.87" fill="none" stroke="#000" stroke-width="1.2" stroke-linejoin="round"/>
<path d="M428 476.41 L428.81 475.59 L429.62 475.21 L430.43 475.17 L431.23 475.14 L432.04 475.29 L432.85 475.29 L433.66 475.31 L434.47 475.27 L435.28 475.38 L436.08 475.6 L436.89 475.68 L437.7 475.76 L438.51 475.79 L439.32 475.86 L440.13 475.85 L440.94 475.82 L441.74 475.89 L442.55 475.91 L443.36 475.91 L444.17 475.93 L444.98 476.11 L445.79 476.22 L446.59 476.25 L447.4 476.3 L448.21 476.35 L449.02 476.42 L449.83 476.49 L450.64 476.4 L451.45 476.55 L452.25 476.6 L453.06 476.77 L453.87 476.75 L454.68 476.8 L455.49 476.88 L456.3 476.91 L457.11 476.92 L457.91 476.97 L458.72 476.88 L459.53 476.7 L460.34 476.81 L461.15 476.87 L461.96 476.94 L462.76 476.99 L463.57 477.12 L464.38 477.36 L465.19 477.32 L466 477.19 L466.81 477.15 L467.62 477.07 L468.42 477.11 L469.23 477.11 L470.04 477.18 L470.85 477.38 L471.66 477.54 L472.47 477.43 L473.27 477.51 L474.08 477.52 L474.89 477.5 L475.7 477.54" fill="none" stroke="#000" stroke-width="1.2" stroke-linejoin="round"/>
<path d="M428 478.08 L428.81 477.44 L429.62 477.08 L430.43 477.2 L431.23 477.27 L432.04 477.28 L432.85 477.34 L433.66 477.45 L434.47 477.5 L435.28 477.41 L436.08 477.51 L436.89 477.43 L437.7 477.61 L438.51 477.9 L439.32 477.83 L440.13 477.74 L440.94 477.82 L441.74 477.85 L442.55 478.07 L443.36 478.24 L444.17 478.13 L444.98 478.13 L445.79 478.41 L446.59 478.55 L447.4 478.8 L448.21 478.91 L449.02 478.94 L449.83 478.87 L450.64 478.82 L451.45 478.79 L452.25 478.75 L453.06 478.69 L453.87 478.81 L454.68 479.02 L455.49 479.15 L456.3 479.13 L457.11 479.15 L457.91 479.28 L458.72 479.39 L459.53 479.41 L460.34 479.51 L461.15 479.36 L461.96 479.51 L462.76 479.36 L463.57 479.42 L464.38 479.46 L465.19 479.52 L466 479.59 L466.81 479.59 L467.62 479.74 L468.42 479.88 L469.23 479.97 L470.04 480.03 L470.85 479.98 L471.66 479.92 L472.47 479.91 L473.27 479.95 L474.08 480.02 L474.89 479.87 L475.7 480.04" fill="none" stroke="#000" stroke-width="1.2" stroke-linejoin="round"/>
<path d="M428 485.96 L428.81 485.31 L429.62 484.83 L430.43 484.76 L431.23 484.8 L432.04 484.79 L432.85 485.09 L433.66 485.16 L434.47 485.2 L435.28 485.25 L436.08 485.12 L436.89 485.09 L437.7 484.99 L438.51 485.07 L439.32 485.13 L440.13 485.1 L440.94 485.14 L441.74 485.16 L442.55 485.18 L443.36 485.1 L444.17 484.98 L444.98 484.91 L445.79 485.17 L446.59 485.29 L447.4 485.49 L448.21 485.57 L449.02 485.69 L449.83 485.49 L450.64 485.43 L451.45 485.53 L452.25 485.48 L453.06 485.58 L453.87 485.54 L454.68 485.49 L455.49 485.6 L456.3 485.51 L457.11 485.38 L457.91 485.31 L458.72 485.53 L459.53 485.5 L460.34 485.62 L461.15 485.67 L461.96 485.56 L462.76 485.43 L463.57 485.41 L464.38 485.45 L465.19 485.45 L466 485.48 L466.81 485.54 L467.62 485.54 L468.42 485.53 L469.23 485.48 L470.04 485.52 L470.85 485.46 L471.66 485.49 L472.47 485.46 L473.27 485.5 L474.08 485.43 L474.89 485.38 L475.7 485.42" fill="none" stroke="#000" stroke-width="1.3" stroke-linejoin="round"/>
<path d="M313.8 494.44 L314.9 494.3 L316 494.33 L317.1 494.29 L318.2 494.37 L319.3 494.09 L320.4 494.18 L321.5 494.33 L322.6 494.48" fill="none" stroke="#000" stroke-width="1.3" stroke-linejoin="round"/>
<line x1="323" y1="496.4" x2="323" y2="462.2" stroke="#000" stroke-width="1.2"/>
<line x1="426.8" y1="437.4" x2="426.8" y2="498.6" stroke="#000" stroke-width="1.3"/>
<path d="M427.4 468.5 L428.4 468.5 L428.4 478 L427.4 478 Z" fill="#111"/>
<line x1="484.3" y1="410.8" x2="484.3" y2="487.4" stroke="#111" stroke-width="1.35"/>
<path d="M484.3 407.5 L481.7 413.3 L486.9 413.3 Z" fill="#111"/>
<text x="485" y="404.7" font-size="7.6" text-anchor="middle" fill="#111" stroke="#111" stroke-width="0.22">1mM</text>
<text x="485.2" y="495.7" font-size="7.6" text-anchor="middle" fill="#111" stroke="#111" stroke-width="0.22">15.63µM</text>
</g>
<rect x="0.55" y="0.55" width="518.9" height="544.9" fill="none" stroke="#161616" stroke-width="1.15"/>
</svg></body></html>
